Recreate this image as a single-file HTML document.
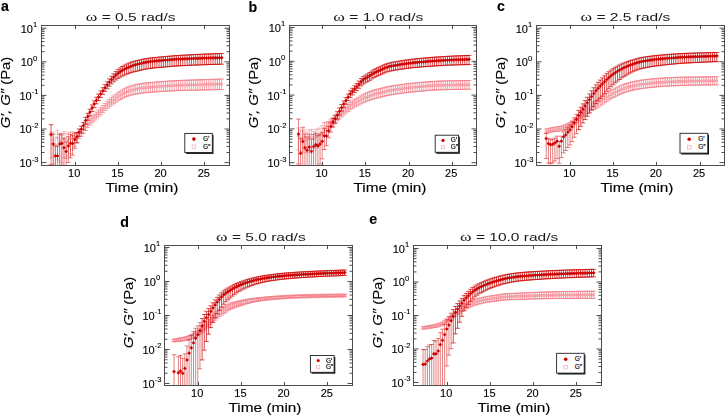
<!DOCTYPE html>
<html><head><meta charset="utf-8"><style>
html,body{margin:0;padding:0;background:#fff;width:726px;height:416px;overflow:hidden}
svg{display:block;filter:blur(0.25px)}
text{font-family:"Liberation Sans",sans-serif;fill:#000;stroke:#000;stroke-width:0.12px}
.tl{font-size:11px}
.sup{font-size:7.6px}
.at{font-size:12px}
.ti{font-size:11.5px;stroke:none;fill:#1a1a1a}
.om{font-family:"Liberation Serif",serif;font-size:13px}
.pl{font-size:15px;font-weight:bold;fill:#000}
.lg{font-size:6.5px;fill:#000;stroke:#000;stroke-width:0.15px}
</style></head><body>
<svg width="726" height="416" viewBox="0 0 726 416">
<defs><clipPath id="cla"><rect x="41.5" y="25.5" width="188.0" height="140.0"/></clipPath><clipPath id="clb"><rect x="289.5" y="25.5" width="187.0" height="140.0"/></clipPath><clipPath id="clc"><rect x="536.5" y="25.5" width="188.0" height="140.0"/></clipPath><clipPath id="cld"><rect x="164.5" y="245.5" width="188.0" height="140.0"/></clipPath><clipPath id="cle"><rect x="413.5" y="245.5" width="188.0" height="140.0"/></clipPath></defs>
<g clip-path="url(#cla)">
<path d="M76.96 132.71V142.57M74.66 132.71h4.60M74.66 142.57h4.60M79.12 131.49V138.80M76.82 131.49h4.60M76.82 138.80h4.60M81.28 129.30V136.24M78.98 129.30h4.60M78.98 136.24h4.60M83.44 126.70V133.56M81.14 126.70h4.60M81.14 133.56h4.60M85.60 123.68V130.49M83.30 123.68h4.60M83.30 130.49h4.60M87.76 120.74V127.54M85.46 120.74h4.60M85.46 127.54h4.60M89.92 118.33V125.13M87.62 118.33h4.60M87.62 125.13h4.60M92.08 116.21V123.04M89.78 116.21h4.60M89.78 123.04h4.60M94.24 114.16V121.02M91.94 114.16h4.60M91.94 121.02h4.60M96.40 112.02V118.93M94.10 112.02h4.60M94.10 118.93h4.60M98.56 109.88V116.84M96.26 109.88h4.60M96.26 116.84h4.60M100.72 107.75V114.77M98.42 107.75h4.60M98.42 114.77h4.60M102.88 105.59V112.68M100.58 105.59h4.60M100.58 112.68h4.60M105.04 103.41V110.60M102.74 103.41h4.60M102.74 110.60h4.60M107.20 101.35V108.66M104.90 101.35h4.60M104.90 108.66h4.60M109.36 99.46V106.91M107.06 99.46h4.60M107.06 106.91h4.60M111.52 97.68V105.27M109.22 97.68h4.60M109.22 105.27h4.60M113.68 95.98V103.74M111.38 95.98h4.60M111.38 103.74h4.60M115.84 94.34V102.26M113.54 94.34h4.60M113.54 102.26h4.60M118.00 92.77V100.87M115.70 92.77h4.60M115.70 100.87h4.60M120.16 91.33V99.60M117.86 91.33h4.60M117.86 99.60h4.60M122.32 89.96V98.42M120.02 89.96h4.60M120.02 98.42h4.60M124.48 88.72V97.34M122.18 88.72h4.60M122.18 97.34h4.60M126.64 87.68V96.47M124.34 87.68h4.60M124.34 96.47h4.60M128.80 86.79V95.74M126.50 86.79h4.60M126.50 95.74h4.60M130.96 86.02V95.12M128.66 86.02h4.60M128.66 95.12h4.60M133.12 85.37V94.60M130.82 85.37h4.60M130.82 94.60h4.60M135.28 84.82V94.15M132.98 84.82h4.60M132.98 94.15h4.60M137.44 84.33V93.76M135.14 84.33h4.60M135.14 93.76h4.60M139.60 83.92V93.41M137.30 83.92h4.60M137.30 93.41h4.60M141.76 83.58V93.12M139.46 83.58h4.60M139.46 93.12h4.60M143.92 83.28V92.87M141.62 83.28h4.60M141.62 92.87h4.60M146.08 83.02V92.65M143.78 83.02h4.60M143.78 92.65h4.60M148.24 82.79V92.45M145.94 82.79h4.60M145.94 92.45h4.60M150.40 82.57V92.27M148.10 82.57h4.60M148.10 92.27h4.60M152.56 82.36V92.10M150.26 82.36h4.60M150.26 92.10h4.60M154.72 82.16V91.94M152.42 82.16h4.60M152.42 91.94h4.60M156.88 81.98V91.79M154.58 81.98h4.60M154.58 91.79h4.60M159.04 81.80V91.65M156.74 81.80h4.60M156.74 91.65h4.60M161.20 81.64V91.51M158.90 81.64h4.60M158.90 91.51h4.60M163.36 81.48V91.38M161.06 81.48h4.60M161.06 91.38h4.60M165.52 81.32V91.25M163.22 81.32h4.60M163.22 91.25h4.60M167.68 81.17V91.12M165.38 81.17h4.60M165.38 91.12h4.60M169.84 81.01V90.99M167.54 81.01h4.60M167.54 90.99h4.60M172.00 80.86V90.87M169.70 80.86h4.60M169.70 90.87h4.60M174.16 80.73V90.76M171.86 80.73h4.60M171.86 90.76h4.60M176.32 80.62V90.67M174.02 80.62h4.60M174.02 90.67h4.60M178.48 80.52V90.59M176.18 80.52h4.60M176.18 90.59h4.60M180.64 80.43V90.52M178.34 80.43h4.60M178.34 90.52h4.60M182.80 80.34V90.46M180.50 80.34h4.60M180.50 90.46h4.60M184.96 80.26V90.40M182.66 80.26h4.60M182.66 90.40h4.60M187.12 80.19V90.35M184.82 80.19h4.60M184.82 90.35h4.60M189.28 80.12V90.30M186.98 80.12h4.60M186.98 90.30h4.60M191.44 80.05V90.25M189.14 80.05h4.60M189.14 90.25h4.60M193.60 79.98V90.20M191.30 79.98h4.60M191.30 90.20h4.60M195.76 79.92V90.15M193.46 79.92h4.60M193.46 90.15h4.60M197.92 79.85V90.11M195.62 79.85h4.60M195.62 90.11h4.60M200.08 79.78V90.06M197.78 79.78h4.60M197.78 90.06h4.60M202.24 79.71V90.01M199.94 79.71h4.60M199.94 90.01h4.60M204.40 79.64V89.96M202.10 79.64h4.60M202.10 89.96h4.60M206.56 79.57V89.90M204.26 79.57h4.60M204.26 89.90h4.60M208.72 79.49V89.84M206.42 79.49h4.60M206.42 89.84h4.60M210.88 79.41V89.79M208.58 79.41h4.60M208.58 89.79h4.60M213.04 79.33V89.73M210.74 79.33h4.60M210.74 89.73h4.60M215.20 79.25V89.67M212.90 79.25h4.60M212.90 89.67h4.60M217.36 79.17V89.62M215.06 79.17h4.60M215.06 89.62h4.60M219.52 79.09V89.56M217.22 79.09h4.60M217.22 89.56h4.60M221.68 79.01V89.51M219.38 79.01h4.60M219.38 89.51h4.60" stroke="#f37c87" stroke-width="0.75" fill="none"/>
<path d="M51.04 125.00V157.98M48.74 125.00h4.60M48.74 157.98h4.60M53.20 132.10V163.89M50.90 132.10h4.60M50.90 163.89h4.60M55.36 137.19V165.50M53.06 137.19h4.60M57.52 130.27V159.88M55.22 130.27h4.60M55.22 159.88h4.60M59.68 133.35V161.89M57.38 133.35h4.60M57.38 161.89h4.60M61.84 135.44V162.86M59.54 135.44h4.60M59.54 162.86h4.60M64.00 131.55V157.76M61.70 131.55h4.60M61.70 157.76h4.60M66.16 133.68V158.54M63.86 133.68h4.60M63.86 158.54h4.60M68.32 132.84V156.18M66.02 132.84h4.60M66.02 156.18h4.60M70.48 132.07V153.61M68.18 132.07h4.60M68.18 153.61h4.60M72.64 131.83V150.08M70.34 131.83h4.60M70.34 150.08h4.60M74.80 132.51V146.44M72.50 132.51h4.60M72.50 146.44h4.60" stroke="#f37c87" stroke-width="0.5" fill="none"/>
<path d="M50.14 132.10h1.80v1.80h-1.80zM52.30 139.10h1.80v1.80h-1.80zM54.46 144.10h1.80v1.80h-1.80zM56.62 137.10h1.80v1.80h-1.80zM58.78 140.10h1.80v1.80h-1.80zM60.94 142.10h1.80v1.80h-1.80zM63.10 138.10h1.80v1.80h-1.80zM65.26 140.10h1.80v1.80h-1.80zM67.42 139.10h1.80v1.80h-1.80zM69.58 138.10h1.80v1.80h-1.80zM71.74 137.10h1.80v1.80h-1.80zM73.90 136.60h1.80v1.80h-1.80zM76.06 135.63h1.80v1.80h-1.80zM78.22 133.67h1.80v1.80h-1.80zM80.38 131.40h1.80v1.80h-1.80zM82.54 128.82h1.80v1.80h-1.80zM84.70 125.84h1.80v1.80h-1.80zM86.86 122.96h1.80v1.80h-1.80zM89.02 120.61h1.80v1.80h-1.80zM91.18 118.57h1.80v1.80h-1.80zM93.34 116.58h1.80v1.80h-1.80zM95.50 114.52h1.80v1.80h-1.80zM97.66 112.44h1.80v1.80h-1.80zM99.82 110.37h1.80v1.80h-1.80zM101.98 108.26h1.80v1.80h-1.80zM104.14 106.14h1.80v1.80h-1.80zM106.30 104.14h1.80v1.80h-1.80zM108.46 102.32h1.80v1.80h-1.80zM110.62 100.60h1.80v1.80h-1.80zM112.78 98.97h1.80v1.80h-1.80zM114.94 97.39h1.80v1.80h-1.80zM117.10 95.89h1.80v1.80h-1.80zM119.26 94.50h1.80v1.80h-1.80zM121.42 93.20h1.80v1.80h-1.80zM123.58 92.01h1.80v1.80h-1.80zM125.74 91.03h1.80v1.80h-1.80zM127.90 90.20h1.80v1.80h-1.80zM130.06 89.47h1.80v1.80h-1.80zM132.22 88.87h1.80v1.80h-1.80zM134.38 88.35h1.80v1.80h-1.80zM136.54 87.90h1.80v1.80h-1.80zM138.70 87.51h1.80v1.80h-1.80zM140.86 87.20h1.80v1.80h-1.80zM143.02 86.92h1.80v1.80h-1.80zM145.18 86.68h1.80v1.80h-1.80zM147.34 86.47h1.80v1.80h-1.80zM149.50 86.27h1.80v1.80h-1.80zM151.66 86.08h1.80v1.80h-1.80zM153.82 85.90h1.80v1.80h-1.80zM155.98 85.73h1.80v1.80h-1.80zM158.14 85.57h1.80v1.80h-1.80zM160.30 85.42h1.80v1.80h-1.80zM162.46 85.27h1.80v1.80h-1.80zM164.62 85.13h1.80v1.80h-1.80zM166.78 84.99h1.80v1.80h-1.80zM168.94 84.85h1.80v1.80h-1.80zM171.10 84.71h1.80v1.80h-1.80zM173.26 84.59h1.80v1.80h-1.80zM175.42 84.49h1.80v1.80h-1.80zM177.58 84.40h1.80v1.80h-1.80zM179.74 84.32h1.80v1.80h-1.80zM181.90 84.25h1.80v1.80h-1.80zM184.06 84.18h1.80v1.80h-1.80zM186.22 84.11h1.80v1.80h-1.80zM188.38 84.05h1.80v1.80h-1.80zM190.54 83.99h1.80v1.80h-1.80zM192.70 83.94h1.80v1.80h-1.80zM194.86 83.88h1.80v1.80h-1.80zM197.02 83.83h1.80v1.80h-1.80zM199.18 83.77h1.80v1.80h-1.80zM201.34 83.71h1.80v1.80h-1.80zM203.50 83.65h1.80v1.80h-1.80zM205.66 83.58h1.80v1.80h-1.80zM207.82 83.52h1.80v1.80h-1.80zM209.98 83.45h1.80v1.80h-1.80zM212.14 83.38h1.80v1.80h-1.80zM214.30 83.31h1.80v1.80h-1.80zM216.46 83.25h1.80v1.80h-1.80zM218.62 83.18h1.80v1.80h-1.80zM220.78 83.11h1.80v1.80h-1.80z" fill="none" stroke="#f37c87" stroke-width="0.5"/>
</g>
<g clip-path="url(#cla)">
<path d="M76.96 132.69V142.86M74.66 132.69h4.60M74.66 142.86h4.60M79.12 129.01V136.35M76.82 129.01h4.60M76.82 136.35h4.60M81.28 126.17V133.11M78.98 126.17h4.60M78.98 133.11h4.60M83.44 122.51V129.34M81.14 122.51h4.60M81.14 129.34h4.60M85.60 117.46V124.21M83.30 117.46h4.60M83.30 124.21h4.60M87.76 113.39V120.06M85.46 113.39h4.60M85.46 120.06h4.60M89.92 109.22V115.84M87.62 109.22h4.60M87.62 115.84h4.60M92.08 104.93V111.50M89.78 104.93h4.60M89.78 111.50h4.60M94.24 100.88V107.42M91.94 100.88h4.60M91.94 107.42h4.60M96.40 97.32V103.83M94.10 97.32h4.60M94.10 103.83h4.60M98.56 94.06V100.56M96.26 94.06h4.60M96.26 100.56h4.60M100.72 90.91V97.41M98.42 90.91h4.60M98.42 97.41h4.60M102.88 87.74V94.33M100.58 87.74h4.60M100.58 94.33h4.60M105.04 84.67V91.44M102.74 84.67h4.60M102.74 91.44h4.60M107.20 81.74V88.75M104.90 81.74h4.60M104.90 88.75h4.60M109.36 78.92V86.24M107.06 78.92h4.60M107.06 86.24h4.60M111.52 76.22V83.88M109.22 76.22h4.60M109.22 83.88h4.60M113.68 73.78V81.82M111.38 73.78h4.60M111.38 81.82h4.60M115.84 71.57V80.00M113.54 71.57h4.60M113.54 80.00h4.60M118.00 69.65V78.45M115.70 69.65h4.60M115.70 78.45h4.60M120.16 67.98V77.15M117.86 67.98h4.60M117.86 77.15h4.60M122.32 66.53V76.02M120.02 66.53h4.60M120.02 76.02h4.60M124.48 65.26V75.03M122.18 65.26h4.60M122.18 75.03h4.60M126.64 64.16V74.14M124.34 64.16h4.60M124.34 74.14h4.60M128.80 63.19V73.32M126.50 63.19h4.60M126.50 73.32h4.60M130.96 62.33V72.60M128.66 62.33h4.60M128.66 72.60h4.60M133.12 61.62V72.00M130.82 61.62h4.60M130.82 72.00h4.60M135.28 61.01V71.47M132.98 61.01h4.60M132.98 71.47h4.60M137.44 60.48V70.98M135.14 60.48h4.60M135.14 70.98h4.60M139.60 60.01V70.48M137.30 60.01h4.60M137.30 70.48h4.60M141.76 59.58V69.99M139.46 59.58h4.60M139.46 69.99h4.60M143.92 59.15V69.50M141.62 59.15h4.60M141.62 69.50h4.60M146.08 58.73V69.04M143.78 58.73h4.60M143.78 69.04h4.60M148.24 58.36V68.66M145.94 58.36h4.60M145.94 68.66h4.60M150.40 58.06V68.35M148.10 58.06h4.60M148.10 68.35h4.60M152.56 57.80V68.09M150.26 57.80h4.60M150.26 68.09h4.60M154.72 57.56V67.86M152.42 57.56h4.60M152.42 67.86h4.60M156.88 57.35V67.64M154.58 57.35h4.60M154.58 67.64h4.60M159.04 57.15V67.45M156.74 57.15h4.60M156.74 67.45h4.60M161.20 56.95V67.26M158.90 56.95h4.60M158.90 67.26h4.60M163.36 56.76V67.08M161.06 56.76h4.60M161.06 67.08h4.60M165.52 56.57V66.89M163.22 56.57h4.60M163.22 66.89h4.60M167.68 56.37V66.70M165.38 56.37h4.60M165.38 66.70h4.60M169.84 56.16V66.50M167.54 56.16h4.60M167.54 66.50h4.60M172.00 55.96V66.31M169.70 55.96h4.60M169.70 66.31h4.60M174.16 55.77V66.13M171.86 55.77h4.60M171.86 66.13h4.60M176.32 55.62V65.99M174.02 55.62h4.60M174.02 65.99h4.60M178.48 55.48V65.86M176.18 55.48h4.60M176.18 65.86h4.60M180.64 55.34V65.74M178.34 55.34h4.60M178.34 65.74h4.60M182.80 55.21V65.63M180.50 55.21h4.60M180.50 65.63h4.60M184.96 55.09V65.52M182.66 55.09h4.60M182.66 65.52h4.60M187.12 54.97V65.42M184.82 54.97h4.60M184.82 65.42h4.60M189.28 54.85V65.32M186.98 54.85h4.60M186.98 65.32h4.60M191.44 54.74V65.22M189.14 54.74h4.60M189.14 65.22h4.60M193.60 54.64V65.13M191.30 54.64h4.60M191.30 65.13h4.60M195.76 54.53V65.04M193.46 54.53h4.60M193.46 65.04h4.60M197.92 54.43V64.96M195.62 54.43h4.60M195.62 64.96h4.60M200.08 54.33V64.88M197.78 54.33h4.60M197.78 64.88h4.60M202.24 54.24V64.80M199.94 54.24h4.60M199.94 64.80h4.60M204.40 54.15V64.72M202.10 54.15h4.60M202.10 64.72h4.60M206.56 54.05V64.65M204.26 54.05h4.60M204.26 64.65h4.60M208.72 53.97V64.58M206.42 53.97h4.60M206.42 64.58h4.60M210.88 53.88V64.51M208.58 53.88h4.60M208.58 64.51h4.60M213.04 53.81V64.45M210.74 53.81h4.60M210.74 64.45h4.60M215.20 53.73V64.39M212.90 53.73h4.60M212.90 64.39h4.60M217.36 53.66V64.33M215.06 53.66h4.60M215.06 64.33h4.60M219.52 53.58V64.27M217.22 53.58h4.60M217.22 64.27h4.60M221.68 53.51V64.21M219.38 53.51h4.60M219.38 64.21h4.60" stroke="#cc0000" stroke-width="0.7" fill="none"/>
<path d="M51.04 124.60V164.57M48.74 124.60h4.60M48.74 164.57h4.60M53.20 134.10V165.50M50.90 134.10h4.60M55.36 146.09V165.50M53.06 146.09h4.60M57.52 146.16V165.50M55.22 146.16h4.60M59.68 134.34V165.50M57.38 134.34h4.60M61.84 133.83V165.23M59.54 133.83h4.60M59.54 165.23h4.60M64.00 138.28V165.50M61.70 138.28h4.60M66.16 142.17V165.50M63.86 142.17h4.60M68.32 136.74V162.43M66.02 136.74h4.60M66.02 162.43h4.60M70.48 134.49V157.92M68.18 134.49h4.60M68.18 157.92h4.60M72.64 135.59V155.20M70.34 135.59h4.60M70.34 155.20h4.60M74.80 133.56V148.28M72.50 133.56h4.60M72.50 148.28h4.60" stroke="#cc0000" stroke-width="0.5" fill="none"/>
<path d="M51.04 133.00l1.60 1.60l-1.60 1.60l-1.60 -1.60zM53.20 142.40l1.60 1.60l-1.60 1.60l-1.60 -1.60zM55.36 154.30l1.60 1.60l-1.60 1.60l-1.60 -1.60zM57.52 154.30l1.60 1.60l-1.60 1.60l-1.60 -1.60zM59.68 142.40l1.60 1.60l-1.60 1.60l-1.60 -1.60zM61.84 141.80l1.60 1.60l-1.60 1.60l-1.60 -1.60zM64.00 146.15l1.60 1.60l-1.60 1.60l-1.60 -1.60zM66.16 149.90l1.60 1.60l-1.60 1.60l-1.60 -1.60zM68.32 144.30l1.60 1.60l-1.60 1.60l-1.60 -1.60zM70.48 141.80l1.60 1.60l-1.60 1.60l-1.60 -1.60zM72.64 141.80l1.60 1.60l-1.60 1.60l-1.60 -1.60zM74.80 138.00l1.60 1.60l-1.60 1.60l-1.60 -1.60zM76.96 135.35l1.60 1.60l-1.60 1.60l-1.60 -1.60zM79.12 130.53l1.60 1.60l-1.60 1.60l-1.60 -1.60zM81.28 127.57l1.60 1.60l-1.60 1.60l-1.60 -1.60zM83.44 123.91l1.60 1.60l-1.60 1.60l-1.60 -1.60zM85.60 118.86l1.60 1.60l-1.60 1.60l-1.60 -1.60zM87.76 114.79l1.60 1.60l-1.60 1.60l-1.60 -1.60zM89.92 110.62l1.60 1.60l-1.60 1.60l-1.60 -1.60zM92.08 106.33l1.60 1.60l-1.60 1.60l-1.60 -1.60zM94.24 102.28l1.60 1.60l-1.60 1.60l-1.60 -1.60zM96.40 98.72l1.60 1.60l-1.60 1.60l-1.60 -1.60zM98.56 95.46l1.60 1.60l-1.60 1.60l-1.60 -1.60zM100.72 92.31l1.60 1.60l-1.60 1.60l-1.60 -1.60zM102.88 89.17l1.60 1.60l-1.60 1.60l-1.60 -1.60zM105.04 86.16l1.60 1.60l-1.60 1.60l-1.60 -1.60zM107.20 83.31l1.60 1.60l-1.60 1.60l-1.60 -1.60zM109.36 80.60l1.60 1.60l-1.60 1.60l-1.60 -1.60zM111.52 78.01l1.60 1.60l-1.60 1.60l-1.60 -1.60zM113.68 75.69l1.60 1.60l-1.60 1.60l-1.60 -1.60zM115.84 73.60l1.60 1.60l-1.60 1.60l-1.60 -1.60zM118.00 71.79l1.60 1.60l-1.60 1.60l-1.60 -1.60zM120.16 70.22l1.60 1.60l-1.60 1.60l-1.60 -1.60zM122.32 68.85l1.60 1.60l-1.60 1.60l-1.60 -1.60zM124.48 67.64l1.60 1.60l-1.60 1.60l-1.60 -1.60zM126.64 66.56l1.60 1.60l-1.60 1.60l-1.60 -1.60zM128.80 65.58l1.60 1.60l-1.60 1.60l-1.60 -1.60zM130.96 64.69l1.60 1.60l-1.60 1.60l-1.60 -1.60zM133.12 63.91l1.60 1.60l-1.60 1.60l-1.60 -1.60zM135.28 63.23l1.60 1.60l-1.60 1.60l-1.60 -1.60zM137.44 62.63l1.60 1.60l-1.60 1.60l-1.60 -1.60zM139.60 62.09l1.60 1.60l-1.60 1.60l-1.60 -1.60zM141.76 61.59l1.60 1.60l-1.60 1.60l-1.60 -1.60zM143.92 61.10l1.60 1.60l-1.60 1.60l-1.60 -1.60zM146.08 60.64l1.60 1.60l-1.60 1.60l-1.60 -1.60zM148.24 60.26l1.60 1.60l-1.60 1.60l-1.60 -1.60zM150.40 59.96l1.60 1.60l-1.60 1.60l-1.60 -1.60zM152.56 59.70l1.60 1.60l-1.60 1.60l-1.60 -1.60zM154.72 59.47l1.60 1.60l-1.60 1.60l-1.60 -1.60zM156.88 59.27l1.60 1.60l-1.60 1.60l-1.60 -1.60zM159.04 59.07l1.60 1.60l-1.60 1.60l-1.60 -1.60zM161.20 58.89l1.60 1.60l-1.60 1.60l-1.60 -1.60zM163.36 58.72l1.60 1.60l-1.60 1.60l-1.60 -1.60zM165.52 58.54l1.60 1.60l-1.60 1.60l-1.60 -1.60zM167.68 58.36l1.60 1.60l-1.60 1.60l-1.60 -1.60zM169.84 58.17l1.60 1.60l-1.60 1.60l-1.60 -1.60zM172.00 57.98l1.60 1.60l-1.60 1.60l-1.60 -1.60zM174.16 57.82l1.60 1.60l-1.60 1.60l-1.60 -1.60zM176.32 57.68l1.60 1.60l-1.60 1.60l-1.60 -1.60zM178.48 57.56l1.60 1.60l-1.60 1.60l-1.60 -1.60zM180.64 57.45l1.60 1.60l-1.60 1.60l-1.60 -1.60zM182.80 57.35l1.60 1.60l-1.60 1.60l-1.60 -1.60zM184.96 57.25l1.60 1.60l-1.60 1.60l-1.60 -1.60zM187.12 57.16l1.60 1.60l-1.60 1.60l-1.60 -1.60zM189.28 57.07l1.60 1.60l-1.60 1.60l-1.60 -1.60zM191.44 56.98l1.60 1.60l-1.60 1.60l-1.60 -1.60zM193.60 56.90l1.60 1.60l-1.60 1.60l-1.60 -1.60zM195.76 56.83l1.60 1.60l-1.60 1.60l-1.60 -1.60zM197.92 56.75l1.60 1.60l-1.60 1.60l-1.60 -1.60zM200.08 56.68l1.60 1.60l-1.60 1.60l-1.60 -1.60zM202.24 56.62l1.60 1.60l-1.60 1.60l-1.60 -1.60zM204.40 56.55l1.60 1.60l-1.60 1.60l-1.60 -1.60zM206.56 56.48l1.60 1.60l-1.60 1.60l-1.60 -1.60zM208.72 56.42l1.60 1.60l-1.60 1.60l-1.60 -1.60zM210.88 56.37l1.60 1.60l-1.60 1.60l-1.60 -1.60zM213.04 56.31l1.60 1.60l-1.60 1.60l-1.60 -1.60zM215.20 56.26l1.60 1.60l-1.60 1.60l-1.60 -1.60zM217.36 56.21l1.60 1.60l-1.60 1.60l-1.60 -1.60zM219.52 56.16l1.60 1.60l-1.60 1.60l-1.60 -1.60zM221.68 56.11l1.60 1.60l-1.60 1.60l-1.60 -1.60z" fill="#cc0000" stroke="#cc0000" stroke-width="0.5"/>
</g>
<rect x="41.5" y="25.5" width="188.0" height="140.0" fill="none" stroke="#4d4d4d" stroke-width="1"/>
<path d="M75.5 165.5v-3.5M75.5 25.5v3.5M118.5 165.5v-3.5M118.5 25.5v3.5M161.5 165.5v-3.5M161.5 25.5v3.5M204.5 165.5v-3.5M204.5 25.5v3.5M41.5 162.60h5M229.5 162.60h-5M41.5 152.49h3M229.5 152.49h-3M41.5 146.57h3M229.5 146.57h-3M41.5 142.37h3M229.5 142.37h-3M41.5 139.11h3M229.5 139.11h-3M41.5 136.45h3M229.5 136.45h-3M41.5 134.20h3M229.5 134.20h-3M41.5 132.26h3M229.5 132.26h-3M41.5 130.54h3M229.5 130.54h-3M41.5 129.00h5M229.5 129.00h-5M41.5 118.89h3M229.5 118.89h-3M41.5 112.97h3M229.5 112.97h-3M41.5 108.77h3M229.5 108.77h-3M41.5 105.51h3M229.5 105.51h-3M41.5 102.85h3M229.5 102.85h-3M41.5 100.60h3M229.5 100.60h-3M41.5 98.66h3M229.5 98.66h-3M41.5 96.94h3M229.5 96.94h-3M41.5 95.40h5M229.5 95.40h-5M41.5 85.29h3M229.5 85.29h-3M41.5 79.37h3M229.5 79.37h-3M41.5 75.17h3M229.5 75.17h-3M41.5 71.91h3M229.5 71.91h-3M41.5 69.25h3M229.5 69.25h-3M41.5 67.00h3M229.5 67.00h-3M41.5 65.06h3M229.5 65.06h-3M41.5 63.34h3M229.5 63.34h-3M41.5 61.80h5M229.5 61.80h-5M41.5 51.69h3M229.5 51.69h-3M41.5 45.77h3M229.5 45.77h-3M41.5 41.57h3M229.5 41.57h-3M41.5 38.31h3M229.5 38.31h-3M41.5 35.65h3M229.5 35.65h-3M41.5 33.40h3M229.5 33.40h-3M41.5 31.46h3M229.5 31.46h-3M41.5 29.74h3M229.5 29.74h-3M41.5 28.20h5M229.5 28.20h-5" stroke="#4d4d4d" stroke-width="1" fill="none"/>
<text x="74.2" y="177.4" class="tl" text-anchor="middle">10</text>
<text x="117.4" y="177.4" class="tl" text-anchor="middle">15</text>
<text x="160.6" y="177.4" class="tl" text-anchor="middle">20</text>
<text x="203.8" y="177.4" class="tl" text-anchor="middle">25</text>
<text x="28.9" y="167.0" class="tl" text-anchor="middle">10<tspan class="sup" dy="-5.5">-3</tspan></text>
<text x="28.9" y="133.4" class="tl" text-anchor="middle">10<tspan class="sup" dy="-5.5">-2</tspan></text>
<text x="28.9" y="99.8" class="tl" text-anchor="middle">10<tspan class="sup" dy="-5.5">-1</tspan></text>
<text x="28.9" y="66.2" class="tl" text-anchor="middle">10<tspan class="sup" dy="-5.5">0</tspan></text>
<text x="28.9" y="32.6" class="tl" text-anchor="middle">10<tspan class="sup" dy="-5.5">1</tspan></text>
<text x="105.5" y="192.1" class="at" textLength="73" lengthAdjust="spacingAndGlyphs">Time (min)</text>
<text transform="translate(10.3,92.5) rotate(-90)" class="at" text-anchor="middle" textLength="71.5" lengthAdjust="spacingAndGlyphs"><tspan font-style="italic">G&#8242;, G&#8243;</tspan> (Pa)</text>
<text x="85.8" y="20.7" class="ti" textLength="89.7" lengthAdjust="spacingAndGlyphs"><tspan class="om">&#969;</tspan> = 0.5 rad/s</text>
<text transform="translate(1.0,11.0) scale(0.95,1)" class="pl">a</text>
<rect x="186.0" y="134.8" width="27.5" height="19.1" fill="#111"/>
<rect x="184.8" y="133.4" width="27.5" height="19.1" fill="#fff" stroke="#222" stroke-width="0.9"/>
<circle cx="193.9" cy="139.1" r="1.8" fill="#cc0000"/>
<rect x="192.1" y="145.0" width="3.6" height="3.6" fill="none" stroke="#f59aa2" stroke-width="0.6"/>
<text x="203.0" y="141.1" class="lg">G&#8242;</text>
<text x="203.0" y="148.8" class="lg">G&#8243;</text>
<g clip-path="url(#clb)">
<path d="M324.36 122.76V135.23M322.06 122.76h4.60M322.06 135.23h4.60M326.52 122.29V131.86M324.22 122.29h4.60M324.22 131.86h4.60M328.68 121.41V128.89M326.38 121.41h4.60M326.38 128.89h4.60M330.84 119.80V126.75M328.54 119.80h4.60M328.54 126.75h4.60M333.00 117.93V124.78M330.70 117.93h4.60M330.70 124.78h4.60M335.16 115.99V122.81M332.86 115.99h4.60M332.86 122.81h4.60M337.32 114.03V120.85M335.02 114.03h4.60M335.02 120.85h4.60M339.48 112.03V118.89M337.18 112.03h4.60M337.18 118.89h4.60M341.64 110.02V116.92M339.34 110.02h4.60M339.34 116.92h4.60M343.80 108.05V115.02M341.50 108.05h4.60M341.50 115.02h4.60M345.96 106.18V113.21M343.66 106.18h4.60M343.66 113.21h4.60M348.12 104.38V111.48M345.82 104.38h4.60M345.82 111.48h4.60M350.28 102.64V109.85M347.98 102.64h4.60M347.98 109.85h4.60M352.44 100.95V108.27M350.14 100.95h4.60M350.14 108.27h4.60M354.60 99.51V106.96M352.30 99.51h4.60M352.30 106.96h4.60M356.76 98.33V105.91M354.46 98.33h4.60M354.46 105.91h4.60M358.92 97.18V104.90M356.62 97.18h4.60M356.62 104.90h4.60M361.08 95.88V103.74M358.78 95.88h4.60M358.78 103.74h4.60M363.24 94.69V102.70M360.94 94.69h4.60M360.94 102.70h4.60M365.40 93.59V101.74M363.10 93.59h4.60M363.10 101.74h4.60M367.56 92.58V100.86M365.26 92.58h4.60M365.26 100.86h4.60M369.72 91.67V100.07M367.42 91.67h4.60M367.42 100.07h4.60M371.88 90.90V99.40M369.58 90.90h4.60M369.58 99.40h4.60M374.04 90.22V98.81M371.74 90.22h4.60M371.74 98.81h4.60M376.20 89.61V98.27M373.90 89.61h4.60M373.90 98.27h4.60M378.36 89.04V97.73M376.06 89.04h4.60M376.06 97.73h4.60M380.52 88.47V97.17M378.22 88.47h4.60M378.22 97.17h4.60M382.68 87.92V96.62M380.38 87.92h4.60M380.38 96.62h4.60M384.84 87.39V96.09M382.54 87.39h4.60M382.54 96.09h4.60M387.00 86.89V95.59M384.70 86.89h4.60M384.70 95.59h4.60M389.16 86.45V95.15M386.86 86.45h4.60M386.86 95.15h4.60M391.32 86.07V94.77M389.02 86.07h4.60M389.02 94.77h4.60M393.48 85.71V94.41M391.18 85.71h4.60M391.18 94.41h4.60M395.64 85.37V94.07M393.34 85.37h4.60M393.34 94.07h4.60M397.80 85.05V93.75M395.50 85.05h4.60M395.50 93.75h4.60M399.96 84.75V93.45M397.66 84.75h4.60M397.66 93.45h4.60M402.12 84.45V93.15M399.82 84.45h4.60M399.82 93.15h4.60M404.28 84.18V92.88M401.98 84.18h4.60M401.98 92.88h4.60M406.44 83.92V92.62M404.14 83.92h4.60M404.14 92.62h4.60M408.60 83.67V92.37M406.30 83.67h4.60M406.30 92.37h4.60M410.76 83.43V92.13M408.46 83.43h4.60M408.46 92.13h4.60M412.92 83.21V91.91M410.62 83.21h4.60M410.62 91.91h4.60M415.08 82.99V91.69M412.78 82.99h4.60M412.78 91.69h4.60M417.24 82.78V91.48M414.94 82.78h4.60M414.94 91.48h4.60M419.40 82.58V91.28M417.10 82.58h4.60M417.10 91.28h4.60M421.56 82.37V91.07M419.26 82.37h4.60M419.26 91.07h4.60M423.72 82.17V90.87M421.42 82.17h4.60M421.42 90.87h4.60M425.88 81.99V90.69M423.58 81.99h4.60M423.58 90.69h4.60M428.04 81.81V90.51M425.74 81.81h4.60M425.74 90.51h4.60M430.20 81.64V90.34M427.90 81.64h4.60M427.90 90.34h4.60M432.36 81.49V90.19M430.06 81.49h4.60M430.06 90.19h4.60M434.52 81.35V90.05M432.22 81.35h4.60M432.22 90.05h4.60M436.68 81.24V89.94M434.38 81.24h4.60M434.38 89.94h4.60M438.84 81.14V89.84M436.54 81.14h4.60M436.54 89.84h4.60M441.00 81.07V89.77M438.70 81.07h4.60M438.70 89.77h4.60M443.16 81.01V89.71M440.86 81.01h4.60M440.86 89.71h4.60M445.32 80.95V89.65M443.02 80.95h4.60M443.02 89.65h4.60M447.48 80.90V89.60M445.18 80.90h4.60M445.18 89.60h4.60M449.64 80.85V89.55M447.34 80.85h4.60M447.34 89.55h4.60M451.80 80.81V89.51M449.50 80.81h4.60M449.50 89.51h4.60M453.96 80.77V89.47M451.66 80.77h4.60M451.66 89.47h4.60M456.12 80.74V89.44M453.82 80.74h4.60M453.82 89.44h4.60M458.28 80.70V89.40M455.98 80.70h4.60M455.98 89.40h4.60M460.44 80.67V89.37M458.14 80.67h4.60M458.14 89.37h4.60M462.60 80.63V89.33M460.30 80.63h4.60M460.30 89.33h4.60M464.76 80.60V89.30M462.46 80.60h4.60M462.46 89.30h4.60M466.92 80.56V89.26M464.62 80.56h4.60M464.62 89.26h4.60M469.08 80.52V89.22M466.78 80.52h4.60M466.78 89.22h4.60" stroke="#f37c87" stroke-width="0.75" fill="none"/>
<path d="M298.44 128.00V150.00M296.14 128.00h4.60M296.14 150.00h4.60M300.60 130.07V151.71M298.30 130.07h4.60M298.30 151.71h4.60M302.76 131.15V152.35M300.46 131.15h4.60M300.46 152.35h4.60M304.92 129.23V150.01M302.62 129.23h4.60M302.62 150.01h4.60M307.08 132.30V152.69M304.78 132.30h4.60M304.78 152.69h4.60M309.24 130.37V150.35M306.94 130.37h4.60M306.94 150.35h4.60M311.40 129.45V148.99M309.10 129.45h4.60M309.10 148.99h4.60M313.56 131.55V150.59M311.26 131.55h4.60M311.26 150.59h4.60M315.72 129.67V148.13M313.42 129.67h4.60M313.42 148.13h4.60M317.88 128.82V146.61M315.58 128.82h4.60M315.58 146.61h4.60M320.04 128.00V144.99M317.74 128.00h4.60M317.74 144.99h4.60M322.20 125.62V140.87M319.90 125.62h4.60M319.90 140.87h4.60" stroke="#f37c87" stroke-width="0.5" fill="none"/>
<path d="M297.54 135.10h1.80v1.80h-1.80zM299.70 137.10h1.80v1.80h-1.80zM301.86 138.10h1.80v1.80h-1.80zM304.02 136.10h1.80v1.80h-1.80zM306.18 139.10h1.80v1.80h-1.80zM308.34 137.10h1.80v1.80h-1.80zM310.50 136.10h1.80v1.80h-1.80zM312.66 138.10h1.80v1.80h-1.80zM314.82 136.10h1.80v1.80h-1.80zM316.98 135.10h1.80v1.80h-1.80zM319.14 134.10h1.80v1.80h-1.80zM321.30 131.10h1.80v1.80h-1.80zM323.46 127.11h1.80v1.80h-1.80zM325.62 125.43h1.80v1.80h-1.80zM327.78 123.69h1.80v1.80h-1.80zM329.94 121.90h1.80v1.80h-1.80zM332.10 120.07h1.80v1.80h-1.80zM334.26 118.20h1.80v1.80h-1.80zM336.42 116.32h1.80v1.80h-1.80zM338.58 114.42h1.80v1.80h-1.80zM340.74 112.50h1.80v1.80h-1.80zM342.90 110.61h1.80v1.80h-1.80zM345.06 108.81h1.80v1.80h-1.80zM347.22 107.06h1.80v1.80h-1.80zM349.38 105.39h1.80v1.80h-1.80zM351.54 103.75h1.80v1.80h-1.80zM353.70 102.37h1.80v1.80h-1.80zM355.86 101.25h1.80v1.80h-1.80zM358.02 100.15h1.80v1.80h-1.80zM360.18 98.91h1.80v1.80h-1.80zM362.34 97.77h1.80v1.80h-1.80zM364.50 96.72h1.80v1.80h-1.80zM366.66 95.75h1.80v1.80h-1.80zM368.82 94.88h1.80v1.80h-1.80zM370.98 94.14h1.80v1.80h-1.80zM373.14 93.49h1.80v1.80h-1.80zM375.30 92.90h1.80v1.80h-1.80zM377.46 92.34h1.80v1.80h-1.80zM379.62 91.77h1.80v1.80h-1.80zM381.78 91.22h1.80v1.80h-1.80zM383.94 90.69h1.80v1.80h-1.80zM386.10 90.19h1.80v1.80h-1.80zM388.26 89.75h1.80v1.80h-1.80zM390.42 89.37h1.80v1.80h-1.80zM392.58 89.01h1.80v1.80h-1.80zM394.74 88.67h1.80v1.80h-1.80zM396.90 88.35h1.80v1.80h-1.80zM399.06 88.05h1.80v1.80h-1.80zM401.22 87.75h1.80v1.80h-1.80zM403.38 87.48h1.80v1.80h-1.80zM405.54 87.22h1.80v1.80h-1.80zM407.70 86.97h1.80v1.80h-1.80zM409.86 86.73h1.80v1.80h-1.80zM412.02 86.51h1.80v1.80h-1.80zM414.18 86.29h1.80v1.80h-1.80zM416.34 86.08h1.80v1.80h-1.80zM418.50 85.88h1.80v1.80h-1.80zM420.66 85.67h1.80v1.80h-1.80zM422.82 85.47h1.80v1.80h-1.80zM424.98 85.29h1.80v1.80h-1.80zM427.14 85.11h1.80v1.80h-1.80zM429.30 84.94h1.80v1.80h-1.80zM431.46 84.79h1.80v1.80h-1.80zM433.62 84.65h1.80v1.80h-1.80zM435.78 84.54h1.80v1.80h-1.80zM437.94 84.44h1.80v1.80h-1.80zM440.10 84.37h1.80v1.80h-1.80zM442.26 84.31h1.80v1.80h-1.80zM444.42 84.25h1.80v1.80h-1.80zM446.58 84.20h1.80v1.80h-1.80zM448.74 84.15h1.80v1.80h-1.80zM450.90 84.11h1.80v1.80h-1.80zM453.06 84.07h1.80v1.80h-1.80zM455.22 84.04h1.80v1.80h-1.80zM457.38 84.00h1.80v1.80h-1.80zM459.54 83.97h1.80v1.80h-1.80zM461.70 83.93h1.80v1.80h-1.80zM463.86 83.90h1.80v1.80h-1.80zM466.02 83.86h1.80v1.80h-1.80zM468.18 83.82h1.80v1.80h-1.80z" fill="none" stroke="#f37c87" stroke-width="0.5"/>
</g>
<g clip-path="url(#clb)">
<path d="M333.00 118.29V127.08M330.70 118.29h4.60M330.70 127.08h4.60M335.16 115.30V123.36M332.86 115.30h4.60M332.86 123.36h4.60M337.32 111.72V119.19M335.02 111.72h4.60M335.02 119.19h4.60M339.48 108.02V115.03M337.18 108.02h4.60M337.18 115.03h4.60M341.64 104.48V111.17M339.34 104.48h4.60M339.34 111.17h4.60M343.80 101.01V107.54M341.50 101.01h4.60M341.50 107.54h4.60M345.96 97.60V104.11M343.66 97.60h4.60M343.66 104.11h4.60M348.12 94.21V100.75M345.82 94.21h4.60M345.82 100.75h4.60M350.28 90.70V97.32M347.98 90.70h4.60M347.98 97.32h4.60M352.44 88.31V95.03M350.14 88.31h4.60M350.14 95.03h4.60M354.60 85.81V92.67M352.30 85.81h4.60M352.30 92.67h4.60M356.76 83.61V90.61M354.46 83.61h4.60M354.46 90.61h4.60M358.92 81.13V88.29M356.62 81.13h4.60M356.62 88.29h4.60M361.08 78.62V85.93M358.78 78.62h4.60M358.78 85.93h4.60M363.24 76.66V84.13M360.94 76.66h4.60M360.94 84.13h4.60M365.40 75.20V82.81M363.10 75.20h4.60M363.10 82.81h4.60M367.56 73.90V81.63M365.26 73.90h4.60M365.26 81.63h4.60M369.72 72.47V80.30M367.42 72.47h4.60M367.42 80.30h4.60M371.88 70.99V78.89M369.58 70.99h4.60M369.58 78.89h4.60M374.04 69.69V77.64M371.74 69.69h4.60M371.74 77.64h4.60M376.20 68.58V76.57M373.90 68.58h4.60M373.90 76.57h4.60M378.36 67.58V75.62M376.06 67.58h4.60M376.06 75.62h4.60M380.52 66.63V74.70M378.22 66.63h4.60M378.22 74.70h4.60M382.68 65.63V73.75M380.38 65.63h4.60M380.38 73.75h4.60M384.84 64.48V72.63M382.54 64.48h4.60M382.54 72.63h4.60M387.00 63.68V71.87M384.70 63.68h4.60M384.70 71.87h4.60M389.16 63.09V71.31M386.86 63.09h4.60M386.86 71.31h4.60M391.32 62.58V70.84M389.02 62.58h4.60M389.02 70.84h4.60M393.48 62.14V70.43M391.18 62.14h4.60M391.18 70.43h4.60M395.64 61.74V70.07M393.34 61.74h4.60M393.34 70.07h4.60M397.80 61.38V69.73M395.50 61.38h4.60M395.50 69.73h4.60M399.96 61.02V69.40M397.66 61.02h4.60M397.66 69.40h4.60M402.12 60.66V69.07M399.82 60.66h4.60M399.82 69.07h4.60M404.28 60.33V68.76M401.98 60.33h4.60M401.98 68.76h4.60M406.44 60.01V68.47M404.14 60.01h4.60M404.14 68.47h4.60M408.60 59.71V68.20M406.30 59.71h4.60M406.30 68.20h4.60M410.76 59.43V67.94M408.46 59.43h4.60M408.46 67.94h4.60M412.92 59.17V67.71M410.62 59.17h4.60M410.62 67.71h4.60M415.08 58.93V67.49M412.78 58.93h4.60M412.78 67.49h4.60M417.24 58.70V67.29M414.94 58.70h4.60M414.94 67.29h4.60M419.40 58.49V67.09M417.10 58.49h4.60M417.10 67.09h4.60M421.56 58.28V66.91M419.26 58.28h4.60M419.26 66.91h4.60M423.72 58.09V66.73M421.42 58.09h4.60M421.42 66.73h4.60M425.88 57.90V66.56M423.58 57.90h4.60M423.58 66.56h4.60M428.04 57.72V66.40M425.74 57.72h4.60M425.74 66.40h4.60M430.20 57.54V66.25M427.90 57.54h4.60M427.90 66.25h4.60M432.36 57.38V66.10M430.06 57.38h4.60M430.06 66.10h4.60M434.52 57.22V65.96M432.22 57.22h4.60M432.22 65.96h4.60M436.68 57.06V65.83M434.38 57.06h4.60M434.38 65.83h4.60M438.84 56.91V65.70M436.54 56.91h4.60M436.54 65.70h4.60M441.00 56.77V65.57M438.70 56.77h4.60M438.70 65.57h4.60M443.16 56.63V65.45M440.86 56.63h4.60M440.86 65.45h4.60M445.32 56.49V65.34M443.02 56.49h4.60M443.02 65.34h4.60M447.48 56.37V65.23M445.18 56.37h4.60M445.18 65.23h4.60M449.64 56.25V65.13M447.34 56.25h4.60M447.34 65.13h4.60M451.80 56.14V65.04M449.50 56.14h4.60M449.50 65.04h4.60M453.96 56.03V64.96M451.66 56.03h4.60M451.66 64.96h4.60M456.12 55.94V64.89M453.82 55.94h4.60M453.82 64.89h4.60M458.28 55.85V64.82M455.98 55.85h4.60M455.98 64.82h4.60M460.44 55.77V64.76M458.14 55.77h4.60M458.14 64.76h4.60M462.60 55.68V64.70M460.30 55.68h4.60M460.30 64.70h4.60M464.76 55.60V64.64M462.46 55.60h4.60M462.46 64.64h4.60M466.92 55.52V64.58M464.62 55.52h4.60M464.62 64.58h4.60M469.08 55.44V64.53M466.78 55.44h4.60M466.78 64.53h4.60" stroke="#cc0000" stroke-width="0.7" fill="none"/>
<path d="M298.44 119.00V164.00M296.14 119.00h4.60M296.14 164.00h4.60M300.60 138.77V165.50M298.30 138.77h4.60M302.76 127.33V165.50M300.46 127.33h4.60M304.92 134.01V165.50M302.62 134.01h4.60M307.08 136.94V165.50M304.78 136.94h4.60M309.24 134.23V165.50M306.94 134.23h4.60M311.40 139.09V165.50M309.10 139.09h4.60M313.56 134.59V165.50M311.26 134.59h4.60M315.72 133.25V165.50M313.42 133.25h4.60M317.88 135.19V165.50M315.58 135.19h4.60M320.04 134.01V163.97M317.74 134.01h4.60M317.74 163.97h4.60M322.20 132.68V158.87M319.90 132.68h4.60M319.90 158.87h4.60M324.36 128.69V149.53M322.06 128.69h4.60M322.06 149.53h4.60M326.52 130.32V145.68M324.22 130.32h4.60M324.22 145.68h4.60M328.68 126.54V137.77M326.38 126.54h4.60M326.38 137.77h4.60M330.84 122.60V132.24M328.54 122.60h4.60M328.54 132.24h4.60" stroke="#cc0000" stroke-width="0.5" fill="none"/>
<path d="M298.44 132.40l1.60 1.60l-1.60 1.60l-1.60 -1.60zM300.60 151.80l1.60 1.60l-1.60 1.60l-1.60 -1.60zM302.76 139.90l1.60 1.60l-1.60 1.60l-1.60 -1.60zM304.92 146.15l1.60 1.60l-1.60 1.60l-1.60 -1.60zM307.08 148.65l1.60 1.60l-1.60 1.60l-1.60 -1.60zM309.24 145.50l1.60 1.60l-1.60 1.60l-1.60 -1.60zM311.40 149.90l1.60 1.60l-1.60 1.60l-1.60 -1.60zM313.56 144.90l1.60 1.60l-1.60 1.60l-1.60 -1.60zM315.72 143.00l1.60 1.60l-1.60 1.60l-1.60 -1.60zM317.88 144.30l1.60 1.60l-1.60 1.60l-1.60 -1.60zM320.04 142.40l1.60 1.60l-1.60 1.60l-1.60 -1.60zM322.20 139.90l1.60 1.60l-1.60 1.60l-1.60 -1.60zM324.36 134.30l1.60 1.60l-1.60 1.60l-1.60 -1.60zM326.52 134.30l1.60 1.60l-1.60 1.60l-1.60 -1.60zM328.68 129.30l1.60 1.60l-1.60 1.60l-1.60 -1.60zM330.84 124.90l1.60 1.60l-1.60 1.60l-1.60 -1.60zM333.00 120.34l1.60 1.60l-1.60 1.60l-1.60 -1.60zM335.16 117.14l1.60 1.60l-1.60 1.60l-1.60 -1.60zM337.32 113.39l1.60 1.60l-1.60 1.60l-1.60 -1.60zM339.48 109.56l1.60 1.60l-1.60 1.60l-1.60 -1.60zM341.64 105.93l1.60 1.60l-1.60 1.60l-1.60 -1.60zM343.80 102.42l1.60 1.60l-1.60 1.60l-1.60 -1.60zM345.96 99.01l1.60 1.60l-1.60 1.60l-1.60 -1.60zM348.12 95.62l1.60 1.60l-1.60 1.60l-1.60 -1.60zM350.28 92.14l1.60 1.60l-1.60 1.60l-1.60 -1.60zM352.44 89.77l1.60 1.60l-1.60 1.60l-1.60 -1.60zM354.60 87.31l1.60 1.60l-1.60 1.60l-1.60 -1.60zM356.76 85.14l1.60 1.60l-1.60 1.60l-1.60 -1.60zM358.92 82.71l1.60 1.60l-1.60 1.60l-1.60 -1.60zM361.08 80.24l1.60 1.60l-1.60 1.60l-1.60 -1.60zM363.24 78.33l1.60 1.60l-1.60 1.60l-1.60 -1.60zM365.40 76.91l1.60 1.60l-1.60 1.60l-1.60 -1.60zM367.56 75.64l1.60 1.60l-1.60 1.60l-1.60 -1.60zM369.72 74.25l1.60 1.60l-1.60 1.60l-1.60 -1.60zM371.88 72.79l1.60 1.60l-1.60 1.60l-1.60 -1.60zM374.04 71.51l1.60 1.60l-1.60 1.60l-1.60 -1.60zM376.20 70.41l1.60 1.60l-1.60 1.60l-1.60 -1.60zM378.36 69.43l1.60 1.60l-1.60 1.60l-1.60 -1.60zM380.52 68.49l1.60 1.60l-1.60 1.60l-1.60 -1.60zM382.68 67.51l1.60 1.60l-1.60 1.60l-1.60 -1.60zM384.84 66.38l1.60 1.60l-1.60 1.60l-1.60 -1.60zM387.00 65.60l1.60 1.60l-1.60 1.60l-1.60 -1.60zM389.16 65.01l1.60 1.60l-1.60 1.60l-1.60 -1.60zM391.32 64.52l1.60 1.60l-1.60 1.60l-1.60 -1.60zM393.48 64.09l1.60 1.60l-1.60 1.60l-1.60 -1.60zM395.64 63.71l1.60 1.60l-1.60 1.60l-1.60 -1.60zM397.80 63.35l1.60 1.60l-1.60 1.60l-1.60 -1.60zM399.96 63.01l1.60 1.60l-1.60 1.60l-1.60 -1.60zM402.12 62.66l1.60 1.60l-1.60 1.60l-1.60 -1.60zM404.28 62.34l1.60 1.60l-1.60 1.60l-1.60 -1.60zM406.44 62.03l1.60 1.60l-1.60 1.60l-1.60 -1.60zM408.60 61.74l1.60 1.60l-1.60 1.60l-1.60 -1.60zM410.76 61.47l1.60 1.60l-1.60 1.60l-1.60 -1.60zM412.92 61.22l1.60 1.60l-1.60 1.60l-1.60 -1.60zM415.08 60.99l1.60 1.60l-1.60 1.60l-1.60 -1.60zM417.24 60.78l1.60 1.60l-1.60 1.60l-1.60 -1.60zM419.40 60.57l1.60 1.60l-1.60 1.60l-1.60 -1.60zM421.56 60.37l1.60 1.60l-1.60 1.60l-1.60 -1.60zM423.72 60.19l1.60 1.60l-1.60 1.60l-1.60 -1.60zM425.88 60.01l1.60 1.60l-1.60 1.60l-1.60 -1.60zM428.04 59.84l1.60 1.60l-1.60 1.60l-1.60 -1.60zM430.20 59.67l1.60 1.60l-1.60 1.60l-1.60 -1.60zM432.36 59.51l1.60 1.60l-1.60 1.60l-1.60 -1.60zM434.52 59.36l1.60 1.60l-1.60 1.60l-1.60 -1.60zM436.68 59.21l1.60 1.60l-1.60 1.60l-1.60 -1.60zM438.84 59.07l1.60 1.60l-1.60 1.60l-1.60 -1.60zM441.00 58.94l1.60 1.60l-1.60 1.60l-1.60 -1.60zM443.16 58.81l1.60 1.60l-1.60 1.60l-1.60 -1.60zM445.32 58.68l1.60 1.60l-1.60 1.60l-1.60 -1.60zM447.48 58.57l1.60 1.60l-1.60 1.60l-1.60 -1.60zM449.64 58.46l1.60 1.60l-1.60 1.60l-1.60 -1.60zM451.80 58.35l1.60 1.60l-1.60 1.60l-1.60 -1.60zM453.96 58.26l1.60 1.60l-1.60 1.60l-1.60 -1.60zM456.12 58.17l1.60 1.60l-1.60 1.60l-1.60 -1.60zM458.28 58.09l1.60 1.60l-1.60 1.60l-1.60 -1.60zM460.44 58.02l1.60 1.60l-1.60 1.60l-1.60 -1.60zM462.60 57.95l1.60 1.60l-1.60 1.60l-1.60 -1.60zM464.76 57.88l1.60 1.60l-1.60 1.60l-1.60 -1.60zM466.92 57.81l1.60 1.60l-1.60 1.60l-1.60 -1.60zM469.08 57.73l1.60 1.60l-1.60 1.60l-1.60 -1.60z" fill="#cc0000" stroke="#cc0000" stroke-width="0.5"/>
</g>
<rect x="289.5" y="25.5" width="187.0" height="140.0" fill="none" stroke="#4d4d4d" stroke-width="1"/>
<path d="M322.5 165.5v-3.5M322.5 25.5v3.5M365.5 165.5v-3.5M365.5 25.5v3.5M409.5 165.5v-3.5M409.5 25.5v3.5M452.5 165.5v-3.5M452.5 25.5v3.5M289.5 162.70h5M476.5 162.70h-5M289.5 152.53h3M476.5 152.53h-3M289.5 146.57h3M476.5 146.57h-3M289.5 142.35h3M476.5 142.35h-3M289.5 139.07h3M476.5 139.07h-3M289.5 136.40h3M476.5 136.40h-3M289.5 134.14h3M476.5 134.14h-3M289.5 132.18h3M476.5 132.18h-3M289.5 130.45h3M476.5 130.45h-3M289.5 128.90h5M476.5 128.90h-5M289.5 118.73h3M476.5 118.73h-3M289.5 112.77h3M476.5 112.77h-3M289.5 108.55h3M476.5 108.55h-3M289.5 105.27h3M476.5 105.27h-3M289.5 102.60h3M476.5 102.60h-3M289.5 100.34h3M476.5 100.34h-3M289.5 98.38h3M476.5 98.38h-3M289.5 96.65h3M476.5 96.65h-3M289.5 95.10h5M476.5 95.10h-5M289.5 84.93h3M476.5 84.93h-3M289.5 78.97h3M476.5 78.97h-3M289.5 74.75h3M476.5 74.75h-3M289.5 71.47h3M476.5 71.47h-3M289.5 68.80h3M476.5 68.80h-3M289.5 66.54h3M476.5 66.54h-3M289.5 64.58h3M476.5 64.58h-3M289.5 62.85h3M476.5 62.85h-3M289.5 61.30h5M476.5 61.30h-5M289.5 51.13h3M476.5 51.13h-3M289.5 45.17h3M476.5 45.17h-3M289.5 40.95h3M476.5 40.95h-3M289.5 37.67h3M476.5 37.67h-3M289.5 35.00h3M476.5 35.00h-3M289.5 32.74h3M476.5 32.74h-3M289.5 30.78h3M476.5 30.78h-3M289.5 29.05h3M476.5 29.05h-3M289.5 27.50h5M476.5 27.50h-5" stroke="#4d4d4d" stroke-width="1" fill="none"/>
<text x="321.6" y="177.4" class="tl" text-anchor="middle">10</text>
<text x="364.8" y="177.4" class="tl" text-anchor="middle">15</text>
<text x="408.0" y="177.4" class="tl" text-anchor="middle">20</text>
<text x="451.2" y="177.4" class="tl" text-anchor="middle">25</text>
<text x="276.9" y="167.1" class="tl" text-anchor="middle">10<tspan class="sup" dy="-5.5">-3</tspan></text>
<text x="276.9" y="133.3" class="tl" text-anchor="middle">10<tspan class="sup" dy="-5.5">-2</tspan></text>
<text x="276.9" y="99.5" class="tl" text-anchor="middle">10<tspan class="sup" dy="-5.5">-1</tspan></text>
<text x="276.9" y="65.7" class="tl" text-anchor="middle">10<tspan class="sup" dy="-5.5">0</tspan></text>
<text x="276.9" y="31.9" class="tl" text-anchor="middle">10<tspan class="sup" dy="-5.5">1</tspan></text>
<text x="353.5" y="192.1" class="at" textLength="73" lengthAdjust="spacingAndGlyphs">Time (min)</text>
<text transform="translate(258.3,92.5) rotate(-90)" class="at" text-anchor="middle" textLength="71.5" lengthAdjust="spacingAndGlyphs"><tspan font-style="italic">G&#8242;, G&#8243;</tspan> (Pa)</text>
<text x="333.3" y="20.7" class="ti" textLength="90.1" lengthAdjust="spacingAndGlyphs"><tspan class="om">&#969;</tspan> = 1.0 rad/s</text>
<text transform="translate(248.5,12.0) scale(0.95,1)" class="pl">b</text>
<rect x="436.4" y="136.7" width="23.4" height="17.1" fill="#111"/>
<rect x="435.2" y="135.2" width="23.4" height="17.1" fill="#fff" stroke="#222" stroke-width="0.9"/>
<circle cx="443.0" cy="140.4" r="1.6" fill="#cc0000"/>
<rect x="441.4" y="145.6" width="3.2" height="3.2" fill="none" stroke="#f59aa2" stroke-width="0.6"/>
<text x="450.7" y="142.4" class="lg">G&#8242;</text>
<text x="450.7" y="149.2" class="lg">G&#8243;</text>
<g clip-path="url(#clc)">
<path d="M546.24 128.95V132.96M543.94 128.95h4.60M543.94 132.96h4.60M548.40 128.47V132.57M546.10 128.47h4.60M546.10 132.57h4.60M550.56 127.99V132.18M548.26 127.99h4.60M548.26 132.18h4.60M552.72 127.57V131.84M550.42 127.57h4.60M550.42 131.84h4.60M554.88 127.22V131.59M552.58 127.22h4.60M552.58 131.59h4.60M557.04 126.92V131.37M554.74 126.92h4.60M554.74 131.37h4.60M559.20 126.58V131.12M556.90 126.58h4.60M556.90 131.12h4.60M561.36 126.15V130.78M559.06 126.15h4.60M559.06 130.78h4.60M563.52 125.53V130.25M561.22 125.53h4.60M561.22 130.25h4.60M565.68 124.62V129.43M563.38 124.62h4.60M563.38 129.43h4.60M567.84 123.58V128.48M565.54 123.58h4.60M565.54 128.48h4.60M570.00 122.32V127.32M567.70 122.32h4.60M567.70 127.32h4.60M572.16 120.87V125.99M569.86 120.87h4.60M569.86 125.99h4.60M574.32 119.19V124.49M572.02 119.19h4.60M572.02 124.49h4.60M576.48 117.29V122.81M574.18 117.29h4.60M574.18 122.81h4.60M578.64 115.12V120.89M576.34 115.12h4.60M576.34 120.89h4.60M580.80 112.73V118.77M578.50 112.73h4.60M578.50 118.77h4.60M582.96 110.61V116.93M580.66 110.61h4.60M580.66 116.93h4.60M585.12 108.74V115.36M582.82 108.74h4.60M582.82 115.36h4.60M587.28 106.89V113.79M584.98 106.89h4.60M584.98 113.79h4.60M589.44 104.90V112.08M587.14 104.90h4.60M587.14 112.08h4.60M591.60 103.09V110.51M589.30 103.09h4.60M589.30 110.51h4.60M593.76 101.77V109.41M591.46 101.77h4.60M591.46 109.41h4.60M595.92 100.68V108.49M593.62 100.68h4.60M593.62 108.49h4.60M598.08 99.35V107.29M595.78 99.35h4.60M595.78 107.29h4.60M600.24 97.76V105.77M597.94 97.76h4.60M597.94 105.77h4.60M602.40 96.20V104.25M600.10 96.20h4.60M600.10 104.25h4.60M604.56 94.69V102.77M602.26 94.69h4.60M602.26 102.77h4.60M606.72 93.20V101.32M604.42 93.20h4.60M604.42 101.32h4.60M608.88 91.80V99.95M606.58 91.80h4.60M606.58 99.95h4.60M611.04 90.51V98.69M608.74 90.51h4.60M608.74 98.69h4.60M613.20 89.30V97.51M610.90 89.30h4.60M610.90 97.51h4.60M615.36 88.16V96.41M613.06 88.16h4.60M613.06 96.41h4.60M617.52 87.13V95.39M615.22 87.13h4.60M615.22 95.39h4.60M619.68 86.13V94.43M617.38 86.13h4.60M617.38 94.43h4.60M621.84 85.19V93.50M619.54 85.19h4.60M619.54 93.50h4.60M624.00 84.33V92.66M621.70 84.33h4.60M621.70 92.66h4.60M626.16 83.58V91.92M623.86 83.58h4.60M623.86 91.92h4.60M628.32 82.95V91.31M626.02 82.95h4.60M626.02 91.31h4.60M630.48 82.38V90.75M628.18 82.38h4.60M628.18 90.75h4.60M632.64 81.85V90.24M630.34 81.85h4.60M630.34 90.24h4.60M634.80 81.37V89.76M632.50 81.37h4.60M632.50 89.76h4.60M636.96 80.93V89.33M634.66 80.93h4.60M634.66 89.33h4.60M639.12 80.54V88.94M636.82 80.54h4.60M636.82 88.94h4.60M641.28 80.20V88.60M638.98 80.20h4.60M638.98 88.60h4.60M643.44 79.91V88.30M641.14 79.91h4.60M641.14 88.30h4.60M645.60 79.63V88.02M643.30 79.63h4.60M643.30 88.02h4.60M647.76 79.37V87.76M645.46 79.37h4.60M645.46 87.76h4.60M649.92 79.13V87.52M647.62 79.13h4.60M647.62 87.52h4.60M652.08 78.91V87.29M649.78 78.91h4.60M649.78 87.29h4.60M654.24 78.71V87.08M651.94 78.71h4.60M651.94 87.08h4.60M656.40 78.52V86.89M654.10 78.52h4.60M654.10 86.89h4.60M658.56 78.35V86.72M656.26 78.35h4.60M656.26 86.72h4.60M660.72 78.21V86.56M658.42 78.21h4.60M658.42 86.56h4.60M662.88 78.07V86.42M660.58 78.07h4.60M660.58 86.42h4.60M665.04 77.95V86.28M662.74 77.95h4.60M662.74 86.28h4.60M667.20 77.83V86.15M664.90 77.83h4.60M664.90 86.15h4.60M669.36 77.72V86.03M667.06 77.72h4.60M667.06 86.03h4.60M671.52 77.61V85.91M669.22 77.61h4.60M669.22 85.91h4.60M673.68 77.51V85.80M671.38 77.51h4.60M671.38 85.80h4.60M675.84 77.42V85.70M673.54 77.42h4.60M673.54 85.70h4.60M678.00 77.34V85.60M675.70 77.34h4.60M675.70 85.60h4.60M680.16 77.27V85.52M677.86 77.27h4.60M677.86 85.52h4.60M682.32 77.20V85.44M680.02 77.20h4.60M680.02 85.44h4.60M684.48 77.15V85.37M682.18 77.15h4.60M682.18 85.37h4.60M686.64 77.10V85.31M684.34 77.10h4.60M684.34 85.31h4.60M688.80 77.07V85.26M686.50 77.07h4.60M686.50 85.26h4.60M690.96 77.04V85.21M688.66 77.04h4.60M688.66 85.21h4.60M693.12 77.01V85.17M690.82 77.01h4.60M690.82 85.17h4.60M695.28 76.98V85.13M692.98 76.98h4.60M692.98 85.13h4.60M697.44 76.96V85.10M695.14 76.96h4.60M695.14 85.10h4.60M699.60 76.94V85.06M697.30 76.94h4.60M697.30 85.06h4.60M701.76 76.92V85.03M699.46 76.92h4.60M699.46 85.03h4.60M703.92 76.90V85.00M701.62 76.90h4.60M701.62 85.00h4.60M706.08 76.89V84.97M703.78 76.89h4.60M703.78 84.97h4.60M708.24 76.87V84.94M705.94 76.87h4.60M705.94 84.94h4.60M710.40 76.85V84.91M708.10 76.85h4.60M708.10 84.91h4.60M712.56 76.83V84.88M710.26 76.83h4.60M710.26 84.88h4.60M714.72 76.82V84.84M712.42 76.82h4.60M712.42 84.84h4.60M716.88 76.79V84.81M714.58 76.79h4.60M714.58 84.81h4.60" stroke="#f37c87" stroke-width="0.75" fill="none"/>
<path d="M545.34 130.55h1.80v1.80h-1.80zM547.50 130.07h1.80v1.80h-1.80zM549.66 129.59h1.80v1.80h-1.80zM551.82 129.17h1.80v1.80h-1.80zM553.98 128.82h1.80v1.80h-1.80zM556.14 128.52h1.80v1.80h-1.80zM558.30 128.18h1.80v1.80h-1.80zM560.46 127.75h1.80v1.80h-1.80zM562.62 127.13h1.80v1.80h-1.80zM564.78 126.22h1.80v1.80h-1.80zM566.94 125.18h1.80v1.80h-1.80zM569.10 123.92h1.80v1.80h-1.80zM571.26 122.49h1.80v1.80h-1.80zM573.42 120.87h1.80v1.80h-1.80zM575.58 119.06h1.80v1.80h-1.80zM577.74 117.00h1.80v1.80h-1.80zM579.90 114.75h1.80v1.80h-1.80zM582.06 112.78h1.80v1.80h-1.80zM584.22 111.06h1.80v1.80h-1.80zM586.38 109.37h1.80v1.80h-1.80zM588.54 107.54h1.80v1.80h-1.80zM590.70 105.86h1.80v1.80h-1.80zM592.86 104.67h1.80v1.80h-1.80zM595.02 103.67h1.80v1.80h-1.80zM597.18 102.42h1.80v1.80h-1.80zM599.34 100.87h1.80v1.80h-1.80zM601.50 99.33h1.80v1.80h-1.80zM603.66 97.83h1.80v1.80h-1.80zM605.82 96.36h1.80v1.80h-1.80zM607.98 94.97h1.80v1.80h-1.80zM610.14 93.70h1.80v1.80h-1.80zM612.30 92.50h1.80v1.80h-1.80zM614.46 91.38h1.80v1.80h-1.80zM616.62 90.36h1.80v1.80h-1.80zM618.78 89.38h1.80v1.80h-1.80zM620.94 88.45h1.80v1.80h-1.80zM623.10 87.59h1.80v1.80h-1.80zM625.26 86.85h1.80v1.80h-1.80zM627.42 86.23h1.80v1.80h-1.80zM629.58 85.67h1.80v1.80h-1.80zM631.74 85.14h1.80v1.80h-1.80zM633.90 84.66h1.80v1.80h-1.80zM636.06 84.23h1.80v1.80h-1.80zM638.22 83.84h1.80v1.80h-1.80zM640.38 83.50h1.80v1.80h-1.80zM642.54 83.20h1.80v1.80h-1.80zM644.70 82.93h1.80v1.80h-1.80zM646.86 82.67h1.80v1.80h-1.80zM649.02 82.42h1.80v1.80h-1.80zM651.18 82.20h1.80v1.80h-1.80zM653.34 81.99h1.80v1.80h-1.80zM655.50 81.81h1.80v1.80h-1.80zM657.66 81.64h1.80v1.80h-1.80zM659.82 81.48h1.80v1.80h-1.80zM661.98 81.35h1.80v1.80h-1.80zM664.14 81.22h1.80v1.80h-1.80zM666.30 81.09h1.80v1.80h-1.80zM668.46 80.97h1.80v1.80h-1.80zM670.62 80.86h1.80v1.80h-1.80zM672.78 80.76h1.80v1.80h-1.80zM674.94 80.66h1.80v1.80h-1.80zM677.10 80.57h1.80v1.80h-1.80zM679.26 80.49h1.80v1.80h-1.80zM681.42 80.42h1.80v1.80h-1.80zM683.58 80.36h1.80v1.80h-1.80zM685.74 80.31h1.80v1.80h-1.80zM687.90 80.26h1.80v1.80h-1.80zM690.06 80.22h1.80v1.80h-1.80zM692.22 80.19h1.80v1.80h-1.80zM694.38 80.16h1.80v1.80h-1.80zM696.54 80.13h1.80v1.80h-1.80zM698.70 80.10h1.80v1.80h-1.80zM700.86 80.07h1.80v1.80h-1.80zM703.02 80.05h1.80v1.80h-1.80zM705.18 80.03h1.80v1.80h-1.80zM707.34 80.00h1.80v1.80h-1.80zM709.50 79.98h1.80v1.80h-1.80zM711.66 79.96h1.80v1.80h-1.80zM713.82 79.93h1.80v1.80h-1.80zM715.98 79.90h1.80v1.80h-1.80z" fill="none" stroke="#f37c87" stroke-width="0.5"/>
</g>
<g clip-path="url(#clc)">
<path d="M578.64 110.43V129.63M576.34 110.43h4.60M576.34 129.63h4.60M580.80 107.14V126.26M578.50 107.14h4.60M578.50 126.26h4.60M582.96 103.88V122.94M580.66 103.88h4.60M580.66 122.94h4.60M585.12 100.59V119.62M582.82 100.59h4.60M582.82 119.62h4.60M587.28 97.31V116.32M584.98 97.31h4.60M584.98 116.32h4.60M589.44 94.02V113.01M587.14 94.02h4.60M587.14 113.01h4.60M591.60 90.81V109.77M589.30 90.81h4.60M589.30 109.77h4.60M593.76 87.76V106.66M591.46 87.76h4.60M591.46 106.66h4.60M595.92 84.87V103.68M593.62 84.87h4.60M593.62 103.68h4.60M598.08 82.31V100.98M595.78 82.31h4.60M595.78 100.98h4.60M600.24 80.06V98.54M597.94 80.06h4.60M597.94 98.54h4.60M602.40 77.91V96.13M600.10 77.91h4.60M600.10 96.13h4.60M604.56 75.75V93.64M602.26 75.75h4.60M602.26 93.64h4.60M606.72 73.66V91.17M604.42 73.66h4.60M604.42 91.17h4.60M608.88 71.76V88.84M606.58 71.76h4.60M606.58 88.84h4.60M611.04 70.10V86.72M608.74 70.10h4.60M608.74 86.72h4.60M613.20 68.60V84.73M610.90 68.60h4.60M610.90 84.73h4.60M615.36 67.25V82.86M613.06 67.25h4.60M613.06 82.86h4.60M617.52 66.05V81.13M615.22 66.05h4.60M615.22 81.13h4.60M619.68 64.94V79.49M617.38 64.94h4.60M617.38 79.49h4.60M621.84 63.90V77.94M619.54 63.90h4.60M619.54 77.94h4.60M624.00 62.96V76.49M621.70 62.96h4.60M621.70 76.49h4.60M626.16 62.13V75.16M623.86 62.13h4.60M623.86 75.16h4.60M628.32 61.38V73.96M626.02 61.38h4.60M626.02 73.96h4.60M630.48 60.66V72.82M628.18 60.66h4.60M628.18 72.82h4.60M632.64 59.97V71.76M630.34 59.97h4.60M630.34 71.76h4.60M634.80 59.31V70.79M632.50 59.31h4.60M632.50 70.79h4.60M636.96 58.70V69.92M634.66 58.70h4.60M634.66 69.92h4.60M639.12 58.14V69.19M636.82 58.14h4.60M636.82 69.19h4.60M641.28 57.66V68.60M638.98 57.66h4.60M638.98 68.60h4.60M643.44 57.27V68.11M641.14 57.27h4.60M641.14 68.11h4.60M645.60 56.91V67.66M643.30 56.91h4.60M643.30 67.66h4.60M647.76 56.59V67.25M645.46 56.59h4.60M645.46 67.25h4.60M649.92 56.29V66.86M647.62 56.29h4.60M647.62 66.86h4.60M652.08 56.02V66.51M649.78 56.02h4.60M649.78 66.51h4.60M654.24 55.77V66.19M651.94 55.77h4.60M651.94 66.19h4.60M656.40 55.54V65.89M654.10 55.54h4.60M654.10 65.89h4.60M658.56 55.32V65.60M656.26 55.32h4.60M656.26 65.60h4.60M660.72 55.12V65.34M658.42 55.12h4.60M658.42 65.34h4.60M662.88 54.93V65.09M660.58 54.93h4.60M660.58 65.09h4.60M665.04 54.75V64.84M662.74 54.75h4.60M662.74 64.84h4.60M667.20 54.57V64.61M664.90 54.57h4.60M664.90 64.61h4.60M669.36 54.40V64.39M667.06 54.40h4.60M667.06 64.39h4.60M671.52 54.24V64.18M669.22 54.24h4.60M669.22 64.18h4.60M673.68 54.08V63.98M671.38 54.08h4.60M671.38 63.98h4.60M675.84 53.94V63.79M673.54 53.94h4.60M673.54 63.79h4.60M678.00 53.80V63.61M675.70 53.80h4.60M675.70 63.61h4.60M680.16 53.68V63.44M677.86 53.68h4.60M677.86 63.44h4.60M682.32 53.56V63.28M680.02 53.56h4.60M680.02 63.28h4.60M684.48 53.45V63.14M682.18 53.45h4.60M682.18 63.14h4.60M686.64 53.36V63.00M684.34 53.36h4.60M684.34 63.00h4.60M688.80 53.27V62.88M686.50 53.27h4.60M686.50 62.88h4.60M690.96 53.19V62.76M688.66 53.19h4.60M688.66 62.76h4.60M693.12 53.11V62.65M690.82 53.11h4.60M690.82 62.65h4.60M695.28 53.05V62.54M692.98 53.05h4.60M692.98 62.54h4.60M697.44 52.98V62.44M695.14 52.98h4.60M695.14 62.44h4.60M699.60 52.92V62.34M697.30 52.92h4.60M697.30 62.34h4.60M701.76 52.86V62.25M699.46 52.86h4.60M699.46 62.25h4.60M703.92 52.81V62.15M701.62 52.81h4.60M701.62 62.15h4.60M706.08 52.76V62.06M703.78 52.76h4.60M703.78 62.06h4.60M708.24 52.70V61.96M705.94 52.70h4.60M705.94 61.96h4.60M710.40 52.65V61.87M708.10 52.65h4.60M708.10 61.87h4.60M712.56 52.60V61.77M710.26 52.60h4.60M710.26 61.77h4.60M714.72 52.54V61.67M712.42 52.54h4.60M712.42 61.67h4.60M716.88 52.49V61.56M714.58 52.49h4.60M714.58 61.56h4.60" stroke="#cc0000" stroke-width="0.7" fill="none"/>
<path d="M546.24 133.50V158.45M543.94 133.50h4.60M543.94 158.45h4.60M548.40 138.60V163.08M546.10 138.60h4.60M546.10 163.08h4.60M550.56 139.70V163.69M548.26 139.70h4.60M548.26 163.69h4.60M552.72 139.30V162.78M550.42 139.30h4.60M550.42 162.78h4.60M554.88 138.00V160.97M552.58 138.00h4.60M552.58 160.97h4.60M557.04 136.20V158.66M554.74 136.20h4.60M554.74 158.66h4.60M559.20 141.30V163.26M556.90 141.30h4.60M556.90 163.26h4.60M561.36 136.20V157.69M559.06 136.20h4.60M559.06 157.69h4.60M563.52 131.90V152.95M561.22 131.90h4.60M561.22 152.95h4.60M565.68 129.90V150.55M563.38 129.90h4.60M563.38 150.55h4.60M567.84 127.20V147.49M565.54 127.20h4.60M565.54 147.49h4.60M570.00 124.90V144.90M567.70 124.90h4.60M567.70 144.90h4.60M572.16 121.80V141.55M569.86 121.80h4.60M569.86 141.55h4.60M574.32 117.80V137.33M572.02 117.80h4.60M572.02 137.33h4.60M576.48 114.39V133.73M574.18 114.39h4.60M574.18 133.73h4.60" stroke="#cc0000" stroke-width="0.5" fill="none"/>
<path d="M546.24 136.90l1.60 1.60l-1.60 1.60l-1.60 -1.60zM548.40 142.00l1.60 1.60l-1.60 1.60l-1.60 -1.60zM550.56 143.10l1.60 1.60l-1.60 1.60l-1.60 -1.60zM552.72 142.70l1.60 1.60l-1.60 1.60l-1.60 -1.60zM554.88 141.40l1.60 1.60l-1.60 1.60l-1.60 -1.60zM557.04 139.60l1.60 1.60l-1.60 1.60l-1.60 -1.60zM559.20 144.70l1.60 1.60l-1.60 1.60l-1.60 -1.60zM561.36 139.60l1.60 1.60l-1.60 1.60l-1.60 -1.60zM563.52 135.30l1.60 1.60l-1.60 1.60l-1.60 -1.60zM565.68 133.30l1.60 1.60l-1.60 1.60l-1.60 -1.60zM567.84 130.60l1.60 1.60l-1.60 1.60l-1.60 -1.60zM570.00 128.30l1.60 1.60l-1.60 1.60l-1.60 -1.60zM572.16 125.20l1.60 1.60l-1.60 1.60l-1.60 -1.60zM574.32 121.20l1.60 1.60l-1.60 1.60l-1.60 -1.60zM576.48 117.80l1.60 1.60l-1.60 1.60l-1.60 -1.60zM578.64 113.88l1.60 1.60l-1.60 1.60l-1.60 -1.60zM580.80 110.68l1.60 1.60l-1.60 1.60l-1.60 -1.60zM582.96 107.52l1.60 1.60l-1.60 1.60l-1.60 -1.60zM585.12 104.35l1.60 1.60l-1.60 1.60l-1.60 -1.60zM587.28 101.19l1.60 1.60l-1.60 1.60l-1.60 -1.60zM589.44 98.04l1.60 1.60l-1.60 1.60l-1.60 -1.60zM591.60 94.95l1.60 1.60l-1.60 1.60l-1.60 -1.60zM593.76 92.00l1.60 1.60l-1.60 1.60l-1.60 -1.60zM595.92 89.20l1.60 1.60l-1.60 1.60l-1.60 -1.60zM598.08 86.69l1.60 1.60l-1.60 1.60l-1.60 -1.60zM600.24 84.46l1.60 1.60l-1.60 1.60l-1.60 -1.60zM602.40 82.30l1.60 1.60l-1.60 1.60l-1.60 -1.60zM604.56 80.09l1.60 1.60l-1.60 1.60l-1.60 -1.60zM606.72 77.92l1.60 1.60l-1.60 1.60l-1.60 -1.60zM608.88 75.93l1.60 1.60l-1.60 1.60l-1.60 -1.60zM611.04 74.16l1.60 1.60l-1.60 1.60l-1.60 -1.60zM613.20 72.53l1.60 1.60l-1.60 1.60l-1.60 -1.60zM615.36 71.04l1.60 1.60l-1.60 1.60l-1.60 -1.60zM617.52 69.69l1.60 1.60l-1.60 1.60l-1.60 -1.60zM619.68 68.42l1.60 1.60l-1.60 1.60l-1.60 -1.60zM621.84 67.23l1.60 1.60l-1.60 1.60l-1.60 -1.60zM624.00 66.14l1.60 1.60l-1.60 1.60l-1.60 -1.60zM626.16 65.15l1.60 1.60l-1.60 1.60l-1.60 -1.60zM628.32 64.27l1.60 1.60l-1.60 1.60l-1.60 -1.60zM630.48 63.42l1.60 1.60l-1.60 1.60l-1.60 -1.60zM632.64 62.61l1.60 1.60l-1.60 1.60l-1.60 -1.60zM634.80 61.85l1.60 1.60l-1.60 1.60l-1.60 -1.60zM636.96 61.16l1.60 1.60l-1.60 1.60l-1.60 -1.60zM639.12 60.56l1.60 1.60l-1.60 1.60l-1.60 -1.60zM641.28 60.05l1.60 1.60l-1.60 1.60l-1.60 -1.60zM643.44 59.63l1.60 1.60l-1.60 1.60l-1.60 -1.60zM645.60 59.25l1.60 1.60l-1.60 1.60l-1.60 -1.60zM647.76 58.90l1.60 1.60l-1.60 1.60l-1.60 -1.60zM649.92 58.58l1.60 1.60l-1.60 1.60l-1.60 -1.60zM652.08 58.29l1.60 1.60l-1.60 1.60l-1.60 -1.60zM654.24 58.02l1.60 1.60l-1.60 1.60l-1.60 -1.60zM656.40 57.77l1.60 1.60l-1.60 1.60l-1.60 -1.60zM658.56 57.54l1.60 1.60l-1.60 1.60l-1.60 -1.60zM660.72 57.32l1.60 1.60l-1.60 1.60l-1.60 -1.60zM662.88 57.12l1.60 1.60l-1.60 1.60l-1.60 -1.60zM665.04 56.92l1.60 1.60l-1.60 1.60l-1.60 -1.60zM667.20 56.73l1.60 1.60l-1.60 1.60l-1.60 -1.60zM669.36 56.55l1.60 1.60l-1.60 1.60l-1.60 -1.60zM671.52 56.37l1.60 1.60l-1.60 1.60l-1.60 -1.60zM673.68 56.21l1.60 1.60l-1.60 1.60l-1.60 -1.60zM675.84 56.05l1.60 1.60l-1.60 1.60l-1.60 -1.60zM678.00 55.90l1.60 1.60l-1.60 1.60l-1.60 -1.60zM680.16 55.77l1.60 1.60l-1.60 1.60l-1.60 -1.60zM682.32 55.64l1.60 1.60l-1.60 1.60l-1.60 -1.60zM684.48 55.52l1.60 1.60l-1.60 1.60l-1.60 -1.60zM686.64 55.42l1.60 1.60l-1.60 1.60l-1.60 -1.60zM688.80 55.32l1.60 1.60l-1.60 1.60l-1.60 -1.60zM690.96 55.23l1.60 1.60l-1.60 1.60l-1.60 -1.60zM693.12 55.15l1.60 1.60l-1.60 1.60l-1.60 -1.60zM695.28 55.07l1.60 1.60l-1.60 1.60l-1.60 -1.60zM697.44 55.00l1.60 1.60l-1.60 1.60l-1.60 -1.60zM699.60 54.93l1.60 1.60l-1.60 1.60l-1.60 -1.60zM701.76 54.86l1.60 1.60l-1.60 1.60l-1.60 -1.60zM703.92 54.79l1.60 1.60l-1.60 1.60l-1.60 -1.60zM706.08 54.73l1.60 1.60l-1.60 1.60l-1.60 -1.60zM708.24 54.67l1.60 1.60l-1.60 1.60l-1.60 -1.60zM710.40 54.61l1.60 1.60l-1.60 1.60l-1.60 -1.60zM712.56 54.54l1.60 1.60l-1.60 1.60l-1.60 -1.60zM714.72 54.47l1.60 1.60l-1.60 1.60l-1.60 -1.60zM716.88 54.40l1.60 1.60l-1.60 1.60l-1.60 -1.60z" fill="#cc0000" stroke="#cc0000" stroke-width="0.5"/>
</g>
<rect x="536.5" y="25.5" width="188.0" height="140.0" fill="none" stroke="#4d4d4d" stroke-width="1"/>
<path d="M570.5 165.5v-3.5M570.5 25.5v3.5M613.5 165.5v-3.5M613.5 25.5v3.5M656.5 165.5v-3.5M656.5 25.5v3.5M700.5 165.5v-3.5M700.5 25.5v3.5M536.5 162.60h5M724.5 162.60h-5M536.5 152.49h3M724.5 152.49h-3M536.5 146.57h3M724.5 146.57h-3M536.5 142.37h3M724.5 142.37h-3M536.5 139.11h3M724.5 139.11h-3M536.5 136.45h3M724.5 136.45h-3M536.5 134.20h3M724.5 134.20h-3M536.5 132.26h3M724.5 132.26h-3M536.5 130.54h3M724.5 130.54h-3M536.5 129.00h5M724.5 129.00h-5M536.5 118.89h3M724.5 118.89h-3M536.5 112.97h3M724.5 112.97h-3M536.5 108.77h3M724.5 108.77h-3M536.5 105.51h3M724.5 105.51h-3M536.5 102.85h3M724.5 102.85h-3M536.5 100.60h3M724.5 100.60h-3M536.5 98.66h3M724.5 98.66h-3M536.5 96.94h3M724.5 96.94h-3M536.5 95.40h5M724.5 95.40h-5M536.5 85.29h3M724.5 85.29h-3M536.5 79.37h3M724.5 79.37h-3M536.5 75.17h3M724.5 75.17h-3M536.5 71.91h3M724.5 71.91h-3M536.5 69.25h3M724.5 69.25h-3M536.5 67.00h3M724.5 67.00h-3M536.5 65.06h3M724.5 65.06h-3M536.5 63.34h3M724.5 63.34h-3M536.5 61.80h5M724.5 61.80h-5M536.5 51.69h3M724.5 51.69h-3M536.5 45.77h3M724.5 45.77h-3M536.5 41.57h3M724.5 41.57h-3M536.5 38.31h3M724.5 38.31h-3M536.5 35.65h3M724.5 35.65h-3M536.5 33.40h3M724.5 33.40h-3M536.5 31.46h3M724.5 31.46h-3M536.5 29.74h3M724.5 29.74h-3M536.5 28.20h5M724.5 28.20h-5" stroke="#4d4d4d" stroke-width="1" fill="none"/>
<text x="569.4" y="177.4" class="tl" text-anchor="middle">10</text>
<text x="612.6" y="177.4" class="tl" text-anchor="middle">15</text>
<text x="655.8" y="177.4" class="tl" text-anchor="middle">20</text>
<text x="699.0" y="177.4" class="tl" text-anchor="middle">25</text>
<text x="523.9" y="167.0" class="tl" text-anchor="middle">10<tspan class="sup" dy="-5.5">-3</tspan></text>
<text x="523.9" y="133.4" class="tl" text-anchor="middle">10<tspan class="sup" dy="-5.5">-2</tspan></text>
<text x="523.9" y="99.8" class="tl" text-anchor="middle">10<tspan class="sup" dy="-5.5">-1</tspan></text>
<text x="523.9" y="66.2" class="tl" text-anchor="middle">10<tspan class="sup" dy="-5.5">0</tspan></text>
<text x="523.9" y="32.6" class="tl" text-anchor="middle">10<tspan class="sup" dy="-5.5">1</tspan></text>
<text x="600.5" y="192.1" class="at" textLength="73" lengthAdjust="spacingAndGlyphs">Time (min)</text>
<text transform="translate(505.3,92.5) rotate(-90)" class="at" text-anchor="middle" textLength="71.5" lengthAdjust="spacingAndGlyphs"><tspan font-style="italic">G&#8242;, G&#8243;</tspan> (Pa)</text>
<text x="580.5" y="20.7" class="ti" textLength="89.8" lengthAdjust="spacingAndGlyphs"><tspan class="om">&#969;</tspan> = 2.5 rad/s</text>
<text transform="translate(497.0,11.0) scale(0.95,1)" class="pl">c</text>
<rect x="681.2" y="134.7" width="27.8" height="19.8" fill="#111"/>
<rect x="680.0" y="133.3" width="27.8" height="19.8" fill="#fff" stroke="#222" stroke-width="0.9"/>
<circle cx="689.2" cy="139.2" r="1.8" fill="#cc0000"/>
<rect x="687.4" y="145.4" width="3.6" height="3.6" fill="none" stroke="#f59aa2" stroke-width="0.6"/>
<text x="698.3" y="141.2" class="lg">G&#8242;</text>
<text x="698.3" y="149.2" class="lg">G&#8243;</text>
<g clip-path="url(#cld)">
<path d="M174.04 339.49V341.50M171.74 339.49h4.60M171.74 341.50h4.60M176.20 339.03V341.31M173.90 339.03h4.60M173.90 341.31h4.60M178.36 338.57V341.13M176.06 338.57h4.60M176.06 341.13h4.60M180.52 338.10V340.94M178.22 338.10h4.60M178.22 340.94h4.60M182.68 337.65V340.76M180.38 337.65h4.60M180.38 340.76h4.60M184.84 337.14V340.53M182.54 337.14h4.60M182.54 340.53h4.60M187.00 336.47V340.12M184.70 336.47h4.60M184.70 340.12h4.60M189.16 335.65V339.55M186.86 335.65h4.60M186.86 339.55h4.60M191.32 334.71V338.86M189.02 334.71h4.60M189.02 338.86h4.60M193.48 333.59V338.01M191.18 333.59h4.60M191.18 338.01h4.60M195.64 332.28V336.98M193.34 332.28h4.60M193.34 336.98h4.60M197.80 330.71V335.70M195.50 330.71h4.60M195.50 335.70h4.60M199.96 328.90V334.17M197.66 328.90h4.60M197.66 334.17h4.60M202.12 326.73V332.28M199.82 326.73h4.60M199.82 332.28h4.60M204.28 324.32V330.15M201.98 324.32h4.60M201.98 330.15h4.60M206.44 322.00V328.10M204.14 322.00h4.60M204.14 328.10h4.60M208.60 319.71V326.04M206.30 319.71h4.60M206.30 326.04h4.60M210.76 317.49V324.04M208.46 317.49h4.60M208.46 324.04h4.60M212.92 315.35V322.07M210.62 315.35h4.60M210.62 322.07h4.60M215.08 313.30V320.16M212.78 313.30h4.60M212.78 320.16h4.60M217.24 311.29V318.24M214.94 311.29h4.60M214.94 318.24h4.60M219.40 309.44V316.44M217.10 309.44h4.60M217.10 316.44h4.60M221.56 308.00V314.97M219.26 308.00h4.60M219.26 314.97h4.60M223.72 306.81V313.68M221.42 306.81h4.60M221.42 313.68h4.60M225.88 305.60V312.30M223.58 305.60h4.60M223.58 312.30h4.60M228.04 304.32V310.79M225.74 304.32h4.60M225.74 310.79h4.60M230.20 303.31V309.52M227.90 303.31h4.60M227.90 309.52h4.60M232.36 302.62V308.54M230.06 302.62h4.60M230.06 308.54h4.60M234.52 302.06V307.70M232.22 302.06h4.60M232.22 307.70h4.60M236.68 301.56V306.92M234.38 301.56h4.60M234.38 306.92h4.60M238.84 301.05V306.17M236.54 301.05h4.60M236.54 306.17h4.60M241.00 300.55V305.46M238.70 300.55h4.60M238.70 305.46h4.60M243.16 300.10V304.79M240.86 300.10h4.60M240.86 304.79h4.60M245.32 299.69V304.16M243.02 299.69h4.60M243.02 304.16h4.60M247.48 299.32V303.56M245.18 299.32h4.60M245.18 303.56h4.60M249.64 298.98V302.98M247.34 298.98h4.60M247.34 302.98h4.60M251.80 298.67V302.43M249.50 298.67h4.60M249.50 302.43h4.60M253.96 298.40V301.93M251.66 298.40h4.60M251.66 301.93h4.60M256.12 298.17V301.49M253.82 298.17h4.60M253.82 301.49h4.60M258.28 297.97V301.08M255.98 297.97h4.60M255.98 301.08h4.60M260.44 297.77V300.70M258.14 297.77h4.60M258.14 300.70h4.60M262.60 297.59V300.35M260.30 297.59h4.60M260.30 300.35h4.60M264.76 297.41V300.03M262.46 297.41h4.60M262.46 300.03h4.60M266.92 297.24V299.75M264.62 297.24h4.60M264.62 299.75h4.60M269.08 297.07V299.50M266.78 297.07h4.60M266.78 299.50h4.60M271.24 296.90V299.28M268.94 296.90h4.60M268.94 299.28h4.60M273.40 296.74V299.07M271.10 296.74h4.60M271.10 299.07h4.60M275.56 296.58V298.87M273.26 296.58h4.60M273.26 298.87h4.60M277.72 296.43V298.68M275.42 296.43h4.60M275.42 298.68h4.60M279.88 296.29V298.50M277.58 296.29h4.60M277.58 298.50h4.60M282.04 296.16V298.34M279.74 296.16h4.60M279.74 298.34h4.60M284.20 296.03V298.18M281.90 296.03h4.60M281.90 298.18h4.60M286.36 295.92V298.04M284.06 295.92h4.60M284.06 298.04h4.60M288.52 295.82V297.91M286.22 295.82h4.60M286.22 297.91h4.60M290.68 295.74V297.80M288.38 295.74h4.60M288.38 297.80h4.60M292.84 295.66V297.70M290.54 295.66h4.60M290.54 297.70h4.60M295.00 295.58V297.60M292.70 295.58h4.60M292.70 297.60h4.60M297.16 295.51V297.51M294.86 295.51h4.60M294.86 297.51h4.60M299.32 295.45V297.42M297.02 295.45h4.60M297.02 297.42h4.60M301.48 295.39V297.34M299.18 295.39h4.60M299.18 297.34h4.60M303.64 295.33V297.26M301.34 295.33h4.60M301.34 297.26h4.60M305.80 295.27V297.19M303.50 295.27h4.60M303.50 297.19h4.60M307.96 295.22V297.12M305.66 295.22h4.60M305.66 297.12h4.60M310.12 295.18V297.05M307.82 295.18h4.60M307.82 297.05h4.60M312.28 295.13V296.99M309.98 295.13h4.60M309.98 296.99h4.60M314.44 295.09V296.94M312.14 295.09h4.60M312.14 296.94h4.60M316.60 295.05V296.88M314.30 295.05h4.60M314.30 296.88h4.60M318.76 295.01V296.83M316.46 295.01h4.60M316.46 296.83h4.60M320.92 294.98V296.78M318.62 294.98h4.60M318.62 296.78h4.60M323.08 294.95V296.73M320.78 294.95h4.60M320.78 296.73h4.60M325.24 294.92V296.69M322.94 294.92h4.60M322.94 296.69h4.60M327.40 294.89V296.65M325.10 294.89h4.60M325.10 296.65h4.60M329.56 294.87V296.61M327.26 294.87h4.60M327.26 296.61h4.60M331.72 294.84V296.56M329.42 294.84h4.60M329.42 296.56h4.60M333.88 294.82V296.52M331.58 294.82h4.60M331.58 296.52h4.60M336.04 294.80V296.48M333.74 294.80h4.60M333.74 296.48h4.60M338.20 294.77V296.44M335.90 294.77h4.60M335.90 296.44h4.60M340.36 294.75V296.40M338.06 294.75h4.60M338.06 296.40h4.60M342.52 294.73V296.35M340.22 294.73h4.60M340.22 296.35h4.60M344.68 294.70V296.31M342.38 294.70h4.60M342.38 296.31h4.60" stroke="#f37c87" stroke-width="0.75" fill="none"/>
<path d="M172.34 338.79h3.40v3.40h-3.40zM174.50 338.47h3.40v3.40h-3.40zM176.66 338.15h3.40v3.40h-3.40zM178.82 337.82h3.40v3.40h-3.40zM180.98 337.51h3.40v3.40h-3.40zM183.14 337.13h3.40v3.40h-3.40zM185.30 336.60h3.40v3.40h-3.40zM187.46 335.90h3.40v3.40h-3.40zM189.62 335.09h3.40v3.40h-3.40zM191.78 334.10h3.40v3.40h-3.40zM193.94 332.93h3.40v3.40h-3.40zM196.10 331.50h3.40v3.40h-3.40zM198.26 329.83h3.40v3.40h-3.40zM200.42 327.80h3.40v3.40h-3.40zM202.58 325.54h3.40v3.40h-3.40zM204.74 323.35h3.40v3.40h-3.40zM206.90 321.18h3.40v3.40h-3.40zM209.06 319.07h3.40v3.40h-3.40zM211.22 317.01h3.40v3.40h-3.40zM213.38 315.03h3.40v3.40h-3.40zM215.54 313.06h3.40v3.40h-3.40zM217.70 311.24h3.40v3.40h-3.40zM219.86 309.79h3.40v3.40h-3.40zM222.02 308.54h3.40v3.40h-3.40zM224.18 307.25h3.40v3.40h-3.40zM226.34 305.86h3.40v3.40h-3.40zM228.50 304.71h3.40v3.40h-3.40zM230.66 303.88h3.40v3.40h-3.40zM232.82 303.18h3.40v3.40h-3.40zM234.98 302.54h3.40v3.40h-3.40zM237.14 301.91h3.40v3.40h-3.40zM239.30 301.31h3.40v3.40h-3.40zM241.46 300.74h3.40v3.40h-3.40zM243.62 300.23h3.40v3.40h-3.40zM245.78 299.74h3.40v3.40h-3.40zM247.94 299.28h3.40v3.40h-3.40zM250.10 298.85h3.40v3.40h-3.40zM252.26 298.47h3.40v3.40h-3.40zM254.42 298.13h3.40v3.40h-3.40zM256.58 297.82h3.40v3.40h-3.40zM258.74 297.54h3.40v3.40h-3.40zM260.90 297.27h3.40v3.40h-3.40zM263.06 297.02h3.40v3.40h-3.40zM265.22 296.79h3.40v3.40h-3.40zM267.38 296.58h3.40v3.40h-3.40zM269.54 296.39h3.40v3.40h-3.40zM271.70 296.20h3.40v3.40h-3.40zM273.86 296.03h3.40v3.40h-3.40zM276.02 295.86h3.40v3.40h-3.40zM278.18 295.70h3.40v3.40h-3.40zM280.34 295.55h3.40v3.40h-3.40zM282.50 295.41h3.40v3.40h-3.40zM284.66 295.28h3.40v3.40h-3.40zM286.82 295.17h3.40v3.40h-3.40zM288.98 295.07h3.40v3.40h-3.40zM291.14 294.98h3.40v3.40h-3.40zM293.30 294.89h3.40v3.40h-3.40zM295.46 294.81h3.40v3.40h-3.40zM297.62 294.73h3.40v3.40h-3.40zM299.78 294.66h3.40v3.40h-3.40zM301.94 294.59h3.40v3.40h-3.40zM304.10 294.53h3.40v3.40h-3.40zM306.26 294.47h3.40v3.40h-3.40zM308.42 294.42h3.40v3.40h-3.40zM310.58 294.36h3.40v3.40h-3.40zM312.74 294.31h3.40v3.40h-3.40zM314.90 294.27h3.40v3.40h-3.40zM317.06 294.22h3.40v3.40h-3.40zM319.22 294.18h3.40v3.40h-3.40zM321.38 294.14h3.40v3.40h-3.40zM323.54 294.11h3.40v3.40h-3.40zM325.70 294.07h3.40v3.40h-3.40zM327.86 294.04h3.40v3.40h-3.40zM330.02 294.00h3.40v3.40h-3.40zM332.18 293.97h3.40v3.40h-3.40zM334.34 293.94h3.40v3.40h-3.40zM336.50 293.91h3.40v3.40h-3.40zM338.66 293.87h3.40v3.40h-3.40zM340.82 293.84h3.40v3.40h-3.40zM342.98 293.81h3.40v3.40h-3.40z" fill="none" stroke="#f37c87" stroke-width="0.5"/>
</g>
<g clip-path="url(#cld)">
<path d="M202.12 318.46V359.91M199.82 318.46h4.60M199.82 359.91h4.60M204.28 314.46V350.16M201.98 314.46h4.60M201.98 350.16h4.60M206.44 311.27V341.49M204.14 311.27h4.60M204.14 341.49h4.60M208.60 308.57V334.12M206.30 308.57h4.60M206.30 334.12h4.60M210.76 305.76V327.60M208.46 305.76h4.60M208.46 327.60h4.60M212.92 302.76V322.34M210.62 302.76h4.60M210.62 322.34h4.60M215.08 299.90V317.82M212.78 299.90h4.60M212.78 317.82h4.60M217.24 297.31V313.83M214.94 297.31h4.60M214.94 313.83h4.60M219.40 294.93V310.27M217.10 294.93h4.60M217.10 310.27h4.60M221.56 292.77V307.09M219.26 292.77h4.60M219.26 307.09h4.60M223.72 290.80V304.23M221.42 290.80h4.60M221.42 304.23h4.60M225.88 289.25V301.84M223.58 289.25h4.60M223.58 301.84h4.60M228.04 288.02V299.84M225.74 288.02h4.60M225.74 299.84h4.60M230.20 286.89V297.98M227.90 286.89h4.60M227.90 297.98h4.60M232.36 285.71V296.14M230.06 285.71h4.60M230.06 296.14h4.60M234.52 284.56V294.39M232.22 284.56h4.60M232.22 294.39h4.60M236.68 283.49V292.79M234.38 283.49h4.60M234.38 292.79h4.60M238.84 282.56V291.39M236.54 282.56h4.60M236.54 291.39h4.60M241.00 281.70V290.15M238.70 281.70h4.60M238.70 290.15h4.60M243.16 280.93V289.05M240.86 280.93h4.60M240.86 289.05h4.60M245.32 280.21V288.06M243.02 280.21h4.60M243.02 288.06h4.60M247.48 279.52V287.14M245.18 279.52h4.60M245.18 287.14h4.60M249.64 278.87V286.26M247.34 278.87h4.60M247.34 286.26h4.60M251.80 278.27V285.44M249.50 278.27h4.60M249.50 285.44h4.60M253.96 277.72V284.70M251.66 277.72h4.60M251.66 284.70h4.60M256.12 277.24V284.04M253.82 277.24h4.60M253.82 284.04h4.60M258.28 276.79V283.43M255.98 276.79h4.60M255.98 283.43h4.60M260.44 276.37V282.86M258.14 276.37h4.60M258.14 282.86h4.60M262.60 275.97V282.34M260.30 275.97h4.60M260.30 282.34h4.60M264.76 275.60V281.86M262.46 275.60h4.60M262.46 281.86h4.60M266.92 275.25V281.43M264.62 275.25h4.60M264.62 281.43h4.60M269.08 274.93V281.05M266.78 274.93h4.60M266.78 281.05h4.60M271.24 274.63V280.71M268.94 274.63h4.60M268.94 280.71h4.60M273.40 274.36V280.40M271.10 274.36h4.60M271.10 280.40h4.60M275.56 274.09V280.10M273.26 274.09h4.60M273.26 280.10h4.60M277.72 273.85V279.82M275.42 273.85h4.60M275.42 279.82h4.60M279.88 273.61V279.56M277.58 273.61h4.60M277.58 279.56h4.60M282.04 273.40V279.31M279.74 273.40h4.60M279.74 279.31h4.60M284.20 273.19V279.07M281.90 273.19h4.60M281.90 279.07h4.60M286.36 273.00V278.85M284.06 273.00h4.60M284.06 278.85h4.60M288.52 272.82V278.65M286.22 272.82h4.60M286.22 278.65h4.60M290.68 272.65V278.46M288.38 272.65h4.60M288.38 278.46h4.60M292.84 272.49V278.27M290.54 272.49h4.60M290.54 278.27h4.60M295.00 272.34V278.10M292.70 272.34h4.60M292.70 278.10h4.60M297.16 272.19V277.94M294.86 272.19h4.60M294.86 277.94h4.60M299.32 272.05V277.78M297.02 272.05h4.60M297.02 277.78h4.60M301.48 271.92V277.63M299.18 271.92h4.60M299.18 277.63h4.60M303.64 271.79V277.49M301.34 271.79h4.60M301.34 277.49h4.60M305.80 271.67V277.35M303.50 271.67h4.60M303.50 277.35h4.60M307.96 271.56V277.22M305.66 271.56h4.60M305.66 277.22h4.60M310.12 271.44V277.09M307.82 271.44h4.60M307.82 277.09h4.60M312.28 271.33V276.97M309.98 271.33h4.60M309.98 276.97h4.60M314.44 271.23V276.85M312.14 271.23h4.60M312.14 276.85h4.60M316.60 271.12V276.73M314.30 271.12h4.60M314.30 276.73h4.60M318.76 271.03V276.62M316.46 271.03h4.60M316.46 276.62h4.60M320.92 270.93V276.51M318.62 270.93h4.60M318.62 276.51h4.60M323.08 270.84V276.40M320.78 270.84h4.60M320.78 276.40h4.60M325.24 270.75V276.30M322.94 270.75h4.60M322.94 276.30h4.60M327.40 270.67V276.20M325.10 270.67h4.60M325.10 276.20h4.60M329.56 270.59V276.11M327.26 270.59h4.60M327.26 276.11h4.60M331.72 270.50V276.01M329.42 270.50h4.60M329.42 276.01h4.60M333.88 270.42V275.91M331.58 270.42h4.60M331.58 275.91h4.60M336.04 270.34V275.82M333.74 270.34h4.60M333.74 275.82h4.60M338.20 270.26V275.72M335.90 270.26h4.60M335.90 275.72h4.60M340.36 270.18V275.62M338.06 270.18h4.60M338.06 275.62h4.60M342.52 270.10V275.52M340.22 270.10h4.60M340.22 275.52h4.60M344.68 270.01V275.42M342.38 270.01h4.60M342.38 275.42h4.60" stroke="#cc0000" stroke-width="0.7" fill="none"/>
<path d="M174.04 354.71V385.50M171.74 354.71h4.60M176.20 408.53V385.50M173.90 408.53h4.60M178.36 356.81V385.50M176.06 356.81h4.60M180.52 355.49V385.50M178.22 355.49h4.60M182.68 358.27V385.50M180.38 358.27h4.60M184.84 353.89V385.50M182.54 353.89h4.60M187.00 345.97V385.50M184.70 345.97h4.60M189.16 339.82V385.50M186.86 339.82h4.60M191.32 335.33V385.50M189.02 335.33h4.60M193.48 331.47V385.50M191.18 331.47h4.60M195.64 328.24V385.50M193.34 328.24h4.60M197.80 325.82V385.50M195.50 325.82h4.60M199.96 322.69V368.85M197.66 322.69h4.60M197.66 368.85h4.60" stroke="#cc0000" stroke-width="0.5" fill="none"/>
<path d="M174.04 370.10l1.60 1.60l-1.60 1.60l-1.60 -1.60zM178.36 371.20l1.60 1.60l-1.60 1.60l-1.60 -1.60zM180.52 369.40l1.60 1.60l-1.60 1.60l-1.60 -1.60zM182.68 371.70l1.60 1.60l-1.60 1.60l-1.60 -1.60zM184.84 366.80l1.60 1.60l-1.60 1.60l-1.60 -1.60zM187.00 358.30l1.60 1.60l-1.60 1.60l-1.60 -1.60zM189.16 351.50l1.60 1.60l-1.60 1.60l-1.60 -1.60zM191.32 346.20l1.60 1.60l-1.60 1.60l-1.60 -1.60zM193.48 341.20l1.60 1.60l-1.60 1.60l-1.60 -1.60zM195.64 336.70l1.60 1.60l-1.60 1.60l-1.60 -1.60zM197.80 333.10l1.60 1.60l-1.60 1.60l-1.60 -1.60zM199.96 329.10l1.60 1.60l-1.60 1.60l-1.60 -1.60zM202.12 324.27l1.60 1.60l-1.60 1.60l-1.60 -1.60zM204.28 319.73l1.60 1.60l-1.60 1.60l-1.60 -1.60zM206.44 316.06l1.60 1.60l-1.60 1.60l-1.60 -1.60zM208.60 312.93l1.60 1.60l-1.60 1.60l-1.60 -1.60zM210.76 309.75l1.60 1.60l-1.60 1.60l-1.60 -1.60zM212.92 306.42l1.60 1.60l-1.60 1.60l-1.60 -1.60zM215.08 303.29l1.60 1.60l-1.60 1.60l-1.60 -1.60zM217.24 300.45l1.60 1.60l-1.60 1.60l-1.60 -1.60zM219.40 297.83l1.60 1.60l-1.60 1.60l-1.60 -1.60zM221.56 295.44l1.60 1.60l-1.60 1.60l-1.60 -1.60zM223.72 293.25l1.60 1.60l-1.60 1.60l-1.60 -1.60zM225.88 291.49l1.60 1.60l-1.60 1.60l-1.60 -1.60zM228.04 290.08l1.60 1.60l-1.60 1.60l-1.60 -1.60zM230.20 288.78l1.60 1.60l-1.60 1.60l-1.60 -1.60zM232.36 287.45l1.60 1.60l-1.60 1.60l-1.60 -1.60zM234.52 286.17l1.60 1.60l-1.60 1.60l-1.60 -1.60zM236.68 285.00l1.60 1.60l-1.60 1.60l-1.60 -1.60zM238.84 283.99l1.60 1.60l-1.60 1.60l-1.60 -1.60zM241.00 283.08l1.60 1.60l-1.60 1.60l-1.60 -1.60zM243.16 282.25l1.60 1.60l-1.60 1.60l-1.60 -1.60zM245.32 281.49l1.60 1.60l-1.60 1.60l-1.60 -1.60zM247.48 280.76l1.60 1.60l-1.60 1.60l-1.60 -1.60zM249.64 280.07l1.60 1.60l-1.60 1.60l-1.60 -1.60zM251.80 279.43l1.60 1.60l-1.60 1.60l-1.60 -1.60zM253.96 278.85l1.60 1.60l-1.60 1.60l-1.60 -1.60zM256.12 278.34l1.60 1.60l-1.60 1.60l-1.60 -1.60zM258.28 277.87l1.60 1.60l-1.60 1.60l-1.60 -1.60zM260.44 277.42l1.60 1.60l-1.60 1.60l-1.60 -1.60zM262.60 277.00l1.60 1.60l-1.60 1.60l-1.60 -1.60zM264.76 276.61l1.60 1.60l-1.60 1.60l-1.60 -1.60zM266.92 276.25l1.60 1.60l-1.60 1.60l-1.60 -1.60zM269.08 275.93l1.60 1.60l-1.60 1.60l-1.60 -1.60zM271.24 275.63l1.60 1.60l-1.60 1.60l-1.60 -1.60zM273.40 275.36l1.60 1.60l-1.60 1.60l-1.60 -1.60zM275.56 275.09l1.60 1.60l-1.60 1.60l-1.60 -1.60zM277.72 274.85l1.60 1.60l-1.60 1.60l-1.60 -1.60zM279.88 274.61l1.60 1.60l-1.60 1.60l-1.60 -1.60zM282.04 274.40l1.60 1.60l-1.60 1.60l-1.60 -1.60zM284.20 274.19l1.60 1.60l-1.60 1.60l-1.60 -1.60zM286.36 274.00l1.60 1.60l-1.60 1.60l-1.60 -1.60zM288.52 273.82l1.60 1.60l-1.60 1.60l-1.60 -1.60zM290.68 273.65l1.60 1.60l-1.60 1.60l-1.60 -1.60zM292.84 273.49l1.60 1.60l-1.60 1.60l-1.60 -1.60zM295.00 273.34l1.60 1.60l-1.60 1.60l-1.60 -1.60zM297.16 273.19l1.60 1.60l-1.60 1.60l-1.60 -1.60zM299.32 273.05l1.60 1.60l-1.60 1.60l-1.60 -1.60zM301.48 272.92l1.60 1.60l-1.60 1.60l-1.60 -1.60zM303.64 272.79l1.60 1.60l-1.60 1.60l-1.60 -1.60zM305.80 272.67l1.60 1.60l-1.60 1.60l-1.60 -1.60zM307.96 272.56l1.60 1.60l-1.60 1.60l-1.60 -1.60zM310.12 272.44l1.60 1.60l-1.60 1.60l-1.60 -1.60zM312.28 272.33l1.60 1.60l-1.60 1.60l-1.60 -1.60zM314.44 272.23l1.60 1.60l-1.60 1.60l-1.60 -1.60zM316.60 272.12l1.60 1.60l-1.60 1.60l-1.60 -1.60zM318.76 272.03l1.60 1.60l-1.60 1.60l-1.60 -1.60zM320.92 271.93l1.60 1.60l-1.60 1.60l-1.60 -1.60zM323.08 271.84l1.60 1.60l-1.60 1.60l-1.60 -1.60zM325.24 271.75l1.60 1.60l-1.60 1.60l-1.60 -1.60zM327.40 271.67l1.60 1.60l-1.60 1.60l-1.60 -1.60zM329.56 271.59l1.60 1.60l-1.60 1.60l-1.60 -1.60zM331.72 271.50l1.60 1.60l-1.60 1.60l-1.60 -1.60zM333.88 271.42l1.60 1.60l-1.60 1.60l-1.60 -1.60zM336.04 271.34l1.60 1.60l-1.60 1.60l-1.60 -1.60zM338.20 271.26l1.60 1.60l-1.60 1.60l-1.60 -1.60zM340.36 271.18l1.60 1.60l-1.60 1.60l-1.60 -1.60zM342.52 271.10l1.60 1.60l-1.60 1.60l-1.60 -1.60zM344.68 271.01l1.60 1.60l-1.60 1.60l-1.60 -1.60z" fill="#cc0000" stroke="#cc0000" stroke-width="0.5"/>
</g>
<rect x="164.5" y="245.5" width="188.0" height="140.0" fill="none" stroke="#4d4d4d" stroke-width="1"/>
<path d="M198.5 385.5v-3.5M198.5 245.5v3.5M241.5 385.5v-3.5M241.5 245.5v3.5M284.5 385.5v-3.5M284.5 245.5v3.5M327.5 385.5v-3.5M327.5 245.5v3.5M164.5 383.50h5M352.5 383.50h-5M164.5 373.26h3M352.5 373.26h-3M164.5 367.28h3M352.5 367.28h-3M164.5 363.03h3M352.5 363.03h-3M164.5 359.74h3M352.5 359.74h-3M164.5 357.04h3M352.5 357.04h-3M164.5 354.77h3M352.5 354.77h-3M164.5 352.79h3M352.5 352.79h-3M164.5 351.06h3M352.5 351.06h-3M164.5 349.50h5M352.5 349.50h-5M164.5 339.26h3M352.5 339.26h-3M164.5 333.28h3M352.5 333.28h-3M164.5 329.03h3M352.5 329.03h-3M164.5 325.74h3M352.5 325.74h-3M164.5 323.04h3M352.5 323.04h-3M164.5 320.77h3M352.5 320.77h-3M164.5 318.79h3M352.5 318.79h-3M164.5 317.06h3M352.5 317.06h-3M164.5 315.50h5M352.5 315.50h-5M164.5 305.26h3M352.5 305.26h-3M164.5 299.28h3M352.5 299.28h-3M164.5 295.03h3M352.5 295.03h-3M164.5 291.74h3M352.5 291.74h-3M164.5 289.04h3M352.5 289.04h-3M164.5 286.77h3M352.5 286.77h-3M164.5 284.79h3M352.5 284.79h-3M164.5 283.06h3M352.5 283.06h-3M164.5 281.50h5M352.5 281.50h-5M164.5 271.26h3M352.5 271.26h-3M164.5 265.28h3M352.5 265.28h-3M164.5 261.03h3M352.5 261.03h-3M164.5 257.74h3M352.5 257.74h-3M164.5 255.04h3M352.5 255.04h-3M164.5 252.77h3M352.5 252.77h-3M164.5 250.79h3M352.5 250.79h-3M164.5 249.06h3M352.5 249.06h-3M164.5 247.50h5M352.5 247.50h-5" stroke="#4d4d4d" stroke-width="1" fill="none"/>
<text x="197.2" y="397.4" class="tl" text-anchor="middle">10</text>
<text x="240.4" y="397.4" class="tl" text-anchor="middle">15</text>
<text x="283.6" y="397.4" class="tl" text-anchor="middle">20</text>
<text x="326.8" y="397.4" class="tl" text-anchor="middle">25</text>
<text x="151.9" y="387.9" class="tl" text-anchor="middle">10<tspan class="sup" dy="-5.5">-3</tspan></text>
<text x="151.9" y="353.9" class="tl" text-anchor="middle">10<tspan class="sup" dy="-5.5">-2</tspan></text>
<text x="151.9" y="319.9" class="tl" text-anchor="middle">10<tspan class="sup" dy="-5.5">-1</tspan></text>
<text x="151.9" y="285.9" class="tl" text-anchor="middle">10<tspan class="sup" dy="-5.5">0</tspan></text>
<text x="151.9" y="251.9" class="tl" text-anchor="middle">10<tspan class="sup" dy="-5.5">1</tspan></text>
<text x="228.5" y="412.1" class="at" textLength="73" lengthAdjust="spacingAndGlyphs">Time (min)</text>
<text transform="translate(133.3,312.5) rotate(-90)" class="at" text-anchor="middle" textLength="71.5" lengthAdjust="spacingAndGlyphs"><tspan font-style="italic">G&#8242;, G&#8243;</tspan> (Pa)</text>
<text x="216.1" y="240.7" class="ti" textLength="89.6" lengthAdjust="spacingAndGlyphs"><tspan class="om">&#969;</tspan> = 5.0 rad/s</text>
<text transform="translate(120.3,226.6) scale(0.95,1)" class="pl">d</text>
<rect x="311.6" y="356.9" width="23.7" height="16.8" fill="#111"/>
<rect x="310.4" y="355.5" width="23.7" height="16.8" fill="#fff" stroke="#222" stroke-width="0.9"/>
<circle cx="318.2" cy="360.5" r="1.6" fill="#cc0000"/>
<rect x="316.6" y="365.7" width="3.2" height="3.2" fill="none" stroke="#f59aa2" stroke-width="0.6"/>
<text x="326.0" y="362.5" class="lg">G&#8242;</text>
<text x="326.0" y="369.3" class="lg">G&#8243;</text>
<g clip-path="url(#cle)">
<path d="M423.04 326.65V329.25M420.74 326.65h4.60M420.74 329.25h4.60M425.20 326.27V328.94M422.90 326.27h4.60M422.90 328.94h4.60M427.36 325.89V328.63M425.06 325.89h4.60M425.06 328.63h4.60M429.52 325.51V328.32M427.22 325.51h4.60M427.22 328.32h4.60M431.68 325.16V328.03M429.38 325.16h4.60M429.38 328.03h4.60M433.84 324.76V327.70M431.54 324.76h4.60M431.54 327.70h4.60M436.00 324.28V327.30M433.70 324.28h4.60M433.70 327.30h4.60M438.16 323.69V326.80M435.86 323.69h4.60M435.86 326.80h4.60M440.32 322.94V326.15M438.02 322.94h4.60M438.02 326.15h4.60M442.48 321.93V325.29M440.18 321.93h4.60M440.18 325.29h4.60M444.64 320.62V324.17M442.34 320.62h4.60M442.34 324.17h4.60M446.80 318.76V322.52M444.50 318.76h4.60M444.50 322.52h4.60M448.96 316.78V320.78M446.66 316.78h4.60M446.66 320.78h4.60M451.12 315.02V319.26M448.82 315.02h4.60M448.82 319.26h4.60M453.28 313.30V317.78M450.98 313.30h4.60M450.98 317.78h4.60M455.44 311.58V316.26M453.14 311.58h4.60M453.14 316.26h4.60M457.60 309.87V314.73M455.30 309.87h4.60M455.30 314.73h4.60M459.76 308.17V313.16M457.46 308.17h4.60M457.46 313.16h4.60M461.92 306.41V311.49M459.62 306.41h4.60M459.62 311.49h4.60M464.08 304.87V310.03M461.78 304.87h4.60M461.78 310.03h4.60M466.24 303.68V308.91M463.94 303.68h4.60M463.94 308.91h4.60M468.40 302.62V307.93M466.10 302.62h4.60M466.10 307.93h4.60M470.56 301.58V306.96M468.26 301.58h4.60M468.26 306.96h4.60M472.72 300.59V306.03M470.42 300.59h4.60M470.42 306.03h4.60M474.88 299.73V305.23M472.58 299.73h4.60M472.58 305.23h4.60M477.04 298.99V304.54M474.74 298.99h4.60M474.74 304.54h4.60M479.20 298.35V303.95M476.90 298.35h4.60M476.90 303.95h4.60M481.36 297.76V303.41M479.06 297.76h4.60M479.06 303.41h4.60M483.52 297.23V302.93M481.22 297.23h4.60M481.22 302.93h4.60M485.68 296.77V302.51M483.38 296.77h4.60M483.38 302.51h4.60M487.84 296.40V302.18M485.54 296.40h4.60M485.54 302.18h4.60M490.00 296.09V301.92M487.70 296.09h4.60M487.70 301.92h4.60M492.16 295.81V301.67M489.86 295.81h4.60M489.86 301.67h4.60M494.32 295.50V301.40M492.02 295.50h4.60M492.02 301.40h4.60M496.48 295.14V301.08M494.18 295.14h4.60M494.18 301.08h4.60M498.64 294.74V300.72M496.34 294.74h4.60M496.34 300.72h4.60M500.80 294.37V300.39M498.50 294.37h4.60M498.50 300.39h4.60M502.96 294.07V300.12M500.66 294.07h4.60M500.66 300.12h4.60M505.12 293.87V299.96M502.82 293.87h4.60M502.82 299.96h4.60M507.28 293.72V299.84M504.98 293.72h4.60M504.98 299.84h4.60M509.44 293.58V299.74M507.14 293.58h4.60M507.14 299.74h4.60M511.60 293.46V299.65M509.30 293.46h4.60M509.30 299.65h4.60M513.76 293.35V299.58M511.46 293.35h4.60M511.46 299.58h4.60M515.92 293.25V299.51M513.62 293.25h4.60M513.62 299.51h4.60M518.08 293.14V299.43M515.78 293.14h4.60M515.78 299.43h4.60M520.24 293.04V299.36M517.94 293.04h4.60M517.94 299.36h4.60M522.40 292.93V299.28M520.10 292.93h4.60M520.10 299.28h4.60M524.56 292.82V299.20M522.26 292.82h4.60M522.26 299.20h4.60M526.72 292.72V299.13M524.42 292.72h4.60M524.42 299.13h4.60M528.88 292.62V299.06M526.58 292.62h4.60M526.58 299.06h4.60M531.04 292.52V298.99M528.74 292.52h4.60M528.74 298.99h4.60M533.20 292.43V298.92M530.90 292.43h4.60M530.90 298.92h4.60M535.36 292.35V298.87M533.06 292.35h4.60M533.06 298.87h4.60M537.52 292.27V298.81M535.22 292.27h4.60M535.22 298.81h4.60M539.68 292.20V298.77M537.38 292.20h4.60M537.38 298.77h4.60M541.84 292.13V298.72M539.54 292.13h4.60M539.54 298.72h4.60M544.00 292.06V298.68M541.70 292.06h4.60M541.70 298.68h4.60M546.16 292.00V298.64M543.86 292.00h4.60M543.86 298.64h4.60M548.32 291.93V298.61M546.02 291.93h4.60M546.02 298.61h4.60M550.48 291.87V298.57M548.18 291.87h4.60M548.18 298.57h4.60M552.64 291.81V298.54M550.34 291.81h4.60M550.34 298.54h4.60M554.80 291.76V298.51M552.50 291.76h4.60M552.50 298.51h4.60M556.96 291.71V298.48M554.66 291.71h4.60M554.66 298.48h4.60M559.12 291.66V298.46M556.82 291.66h4.60M556.82 298.46h4.60M561.28 291.62V298.44M558.98 291.62h4.60M558.98 298.44h4.60M563.44 291.58V298.43M561.14 291.58h4.60M561.14 298.43h4.60M565.60 291.55V298.42M563.30 291.55h4.60M563.30 298.42h4.60M567.76 291.52V298.41M565.46 291.52h4.60M565.46 298.41h4.60M569.92 291.49V298.40M567.62 291.49h4.60M567.62 298.40h4.60M572.08 291.46V298.40M569.78 291.46h4.60M569.78 298.40h4.60M574.24 291.43V298.40M571.94 291.43h4.60M571.94 298.40h4.60M576.40 291.41V298.40M574.10 291.41h4.60M574.10 298.40h4.60M578.56 291.38V298.40M576.26 291.38h4.60M576.26 298.40h4.60M580.72 291.36V298.40M578.42 291.36h4.60M578.42 298.40h4.60M582.88 291.33V298.40M580.58 291.33h4.60M580.58 298.40h4.60M585.04 291.31V298.40M582.74 291.31h4.60M582.74 298.40h4.60M587.20 291.28V298.40M584.90 291.28h4.60M584.90 298.40h4.60M589.36 291.26V298.40M587.06 291.26h4.60M587.06 298.40h4.60M591.52 291.23V298.40M589.22 291.23h4.60M589.22 298.40h4.60M593.68 291.20V298.40M591.38 291.20h4.60M591.38 298.40h4.60" stroke="#f37c87" stroke-width="0.75" fill="none"/>
<path d="M422.14 327.05h1.80v1.80h-1.80zM424.30 326.71h1.80v1.80h-1.80zM426.46 326.36h1.80v1.80h-1.80zM428.62 326.02h1.80v1.80h-1.80zM430.78 325.69h1.80v1.80h-1.80zM432.94 325.33h1.80v1.80h-1.80zM435.10 324.89h1.80v1.80h-1.80zM437.26 324.35h1.80v1.80h-1.80zM439.42 323.65h1.80v1.80h-1.80zM441.58 322.71h1.80v1.80h-1.80zM443.74 321.50h1.80v1.80h-1.80zM445.90 319.74h1.80v1.80h-1.80zM448.06 317.88h1.80v1.80h-1.80zM450.22 316.24h1.80v1.80h-1.80zM452.38 314.64h1.80v1.80h-1.80zM454.54 313.02h1.80v1.80h-1.80zM456.70 311.40h1.80v1.80h-1.80zM458.86 309.77h1.80v1.80h-1.80zM461.02 308.05h1.80v1.80h-1.80zM463.18 306.55h1.80v1.80h-1.80zM465.34 305.39h1.80v1.80h-1.80zM467.50 304.38h1.80v1.80h-1.80zM469.66 303.37h1.80v1.80h-1.80zM471.82 302.41h1.80v1.80h-1.80zM473.98 301.58h1.80v1.80h-1.80zM476.14 300.87h1.80v1.80h-1.80zM478.30 300.25h1.80v1.80h-1.80zM480.46 299.69h1.80v1.80h-1.80zM482.62 299.18h1.80v1.80h-1.80zM484.78 298.74h1.80v1.80h-1.80zM486.94 298.39h1.80v1.80h-1.80zM489.10 298.11h1.80v1.80h-1.80zM491.26 297.84h1.80v1.80h-1.80zM493.42 297.55h1.80v1.80h-1.80zM495.58 297.21h1.80v1.80h-1.80zM497.74 296.83h1.80v1.80h-1.80zM499.90 296.48h1.80v1.80h-1.80zM502.06 296.20h1.80v1.80h-1.80zM504.22 296.02h1.80v1.80h-1.80zM506.38 295.88h1.80v1.80h-1.80zM508.54 295.76h1.80v1.80h-1.80zM510.70 295.66h1.80v1.80h-1.80zM512.86 295.56h1.80v1.80h-1.80zM515.02 295.48h1.80v1.80h-1.80zM517.18 295.39h1.80v1.80h-1.80zM519.34 295.30h1.80v1.80h-1.80zM521.50 295.20h1.80v1.80h-1.80zM523.66 295.11h1.80v1.80h-1.80zM525.82 295.02h1.80v1.80h-1.80zM527.98 294.94h1.80v1.80h-1.80zM530.14 294.86h1.80v1.80h-1.80zM532.30 294.78h1.80v1.80h-1.80zM534.46 294.71h1.80v1.80h-1.80zM536.62 294.64h1.80v1.80h-1.80zM538.78 294.58h1.80v1.80h-1.80zM540.94 294.53h1.80v1.80h-1.80zM543.10 294.47h1.80v1.80h-1.80zM545.26 294.42h1.80v1.80h-1.80zM547.42 294.37h1.80v1.80h-1.80zM549.58 294.32h1.80v1.80h-1.80zM551.74 294.28h1.80v1.80h-1.80zM553.90 294.23h1.80v1.80h-1.80zM556.06 294.20h1.80v1.80h-1.80zM558.22 294.16h1.80v1.80h-1.80zM560.38 294.13h1.80v1.80h-1.80zM562.54 294.11h1.80v1.80h-1.80zM564.70 294.08h1.80v1.80h-1.80zM566.86 294.06h1.80v1.80h-1.80zM569.02 294.05h1.80v1.80h-1.80zM571.18 294.03h1.80v1.80h-1.80zM573.34 294.02h1.80v1.80h-1.80zM575.50 294.00h1.80v1.80h-1.80zM577.66 293.99h1.80v1.80h-1.80zM579.82 293.98h1.80v1.80h-1.80zM581.98 293.97h1.80v1.80h-1.80zM584.14 293.95h1.80v1.80h-1.80zM586.30 293.94h1.80v1.80h-1.80zM588.46 293.93h1.80v1.80h-1.80zM590.62 293.92h1.80v1.80h-1.80zM592.78 293.90h1.80v1.80h-1.80z" fill="none" stroke="#f37c87" stroke-width="0.5"/>
</g>
<g clip-path="url(#cle)">
<path d="M453.28 309.56V342.97M450.98 309.56h4.60M450.98 342.97h4.60M455.44 306.43V333.92M453.14 306.43h4.60M453.14 333.92h4.60M457.60 303.56V328.28M455.30 303.56h4.60M455.30 328.28h4.60M459.76 300.92V322.20M457.46 300.92h4.60M457.46 322.20h4.60M461.92 298.41V316.30M459.62 298.41h4.60M459.62 316.30h4.60M464.08 295.61V310.87M461.78 295.61h4.60M461.78 310.87h4.60M466.24 293.40V307.35M463.94 293.40h4.60M463.94 307.35h4.60M468.40 291.39V304.33M466.10 291.39h4.60M466.10 304.33h4.60M470.56 289.30V301.38M468.26 289.30h4.60M468.26 301.38h4.60M472.72 287.57V298.94M470.42 287.57h4.60M470.42 298.94h4.60M474.88 286.11V296.91M472.58 286.11h4.60M472.58 296.91h4.60M477.04 284.83V295.20M474.74 284.83h4.60M474.74 295.20h4.60M479.20 283.69V293.76M476.90 283.69h4.60M476.90 293.76h4.60M481.36 282.62V292.51M479.06 282.62h4.60M479.06 292.51h4.60M483.52 281.63V291.35M481.22 281.63h4.60M481.22 291.35h4.60M485.68 280.71V290.27M483.38 280.71h4.60M483.38 290.27h4.60M487.84 279.86V289.28M485.54 279.86h4.60M485.54 289.28h4.60M490.00 279.10V288.38M487.70 279.10h4.60M487.70 288.38h4.60M492.16 278.39V287.54M489.86 278.39h4.60M489.86 287.54h4.60M494.32 277.73V286.77M492.02 277.73h4.60M492.02 286.77h4.60M496.48 277.08V286.01M494.18 277.08h4.60M494.18 286.01h4.60M498.64 276.46V285.29M496.34 276.46h4.60M496.34 285.29h4.60M500.80 275.87V284.62M498.50 275.87h4.60M498.50 284.62h4.60M502.96 275.34V284.00M500.66 275.34h4.60M500.66 284.00h4.60M505.12 274.89V283.48M502.82 274.89h4.60M502.82 283.48h4.60M507.28 274.48V283.00M504.98 274.48h4.60M504.98 283.00h4.60M509.44 274.09V282.55M507.14 274.09h4.60M507.14 282.55h4.60M511.60 273.73V282.13M509.30 273.73h4.60M509.30 282.13h4.60M513.76 273.41V281.76M511.46 273.41h4.60M511.46 281.76h4.60M515.92 273.12V281.42M513.62 273.12h4.60M513.62 281.42h4.60M518.08 272.86V281.12M515.78 272.86h4.60M515.78 281.12h4.60M520.24 272.65V280.87M517.94 272.65h4.60M517.94 280.87h4.60M522.40 272.45V280.64M520.10 272.45h4.60M520.10 280.64h4.60M524.56 272.27V280.43M522.26 272.27h4.60M522.26 280.43h4.60M526.72 272.11V280.23M524.42 272.11h4.60M524.42 280.23h4.60M528.88 271.95V280.05M526.58 271.95h4.60M526.58 280.05h4.60M531.04 271.81V279.88M528.74 271.81h4.60M528.74 279.88h4.60M533.20 271.68V279.72M530.90 271.68h4.60M530.90 279.72h4.60M535.36 271.55V279.56M533.06 271.55h4.60M533.06 279.56h4.60M537.52 271.42V279.41M535.22 271.42h4.60M535.22 279.41h4.60M539.68 271.30V279.27M537.38 271.30h4.60M537.38 279.27h4.60M541.84 271.18V279.12M539.54 271.18h4.60M539.54 279.12h4.60M544.00 271.06V278.98M541.70 271.06h4.60M541.70 278.98h4.60M546.16 270.94V278.85M543.86 270.94h4.60M543.86 278.85h4.60M548.32 270.83V278.72M546.02 270.83h4.60M546.02 278.72h4.60M550.48 270.73V278.60M548.18 270.73h4.60M548.18 278.60h4.60M552.64 270.62V278.47M550.34 270.62h4.60M550.34 278.47h4.60M554.80 270.53V278.36M552.50 270.53h4.60M552.50 278.36h4.60M556.96 270.43V278.25M554.66 270.43h4.60M554.66 278.25h4.60M559.12 270.34V278.14M556.82 270.34h4.60M556.82 278.14h4.60M561.28 270.25V278.04M558.98 270.25h4.60M558.98 278.04h4.60M563.44 270.17V277.94M561.14 270.17h4.60M561.14 277.94h4.60M565.60 270.09V277.84M563.30 270.09h4.60M563.30 277.84h4.60M567.76 270.02V277.75M565.46 270.02h4.60M565.46 277.75h4.60M569.92 269.95V277.67M567.62 269.95h4.60M567.62 277.67h4.60M572.08 269.89V277.59M569.78 269.89h4.60M569.78 277.59h4.60M574.24 269.82V277.51M571.94 269.82h4.60M571.94 277.51h4.60M576.40 269.76V277.43M574.10 269.76h4.60M574.10 277.43h4.60M578.56 269.70V277.35M576.26 269.70h4.60M576.26 277.35h4.60M580.72 269.65V277.28M578.42 269.65h4.60M578.42 277.28h4.60M582.88 269.59V277.20M580.58 269.59h4.60M580.58 277.20h4.60M585.04 269.53V277.13M582.74 269.53h4.60M582.74 277.13h4.60M587.20 269.48V277.05M584.90 269.48h4.60M584.90 277.05h4.60M589.36 269.42V276.97M587.06 269.42h4.60M587.06 276.97h4.60M591.52 269.37V276.89M589.22 269.37h4.60M589.22 276.89h4.60M593.68 269.31V276.81M591.38 269.31h4.60M591.38 276.81h4.60" stroke="#cc0000" stroke-width="0.7" fill="none"/>
<path d="M423.04 349.41V385.50M420.74 349.41h4.60M425.20 349.47V385.50M422.90 349.47h4.60M427.36 346.71V385.50M425.06 346.71h4.60M429.52 344.93V385.50M427.22 344.93h4.60M431.68 344.46V385.50M429.38 344.46h4.60M433.84 340.52V385.50M431.54 340.52h4.60M436.00 340.91V385.50M433.70 340.91h4.60M438.16 338.56V385.50M435.86 338.56h4.60M440.32 332.68V385.50M438.02 332.68h4.60M442.48 329.11V385.50M440.18 329.11h4.60M444.64 324.33V385.50M442.34 324.33h4.60M446.80 319.70V366.00M444.50 319.70h4.60M444.50 366.00h4.60M448.96 316.72V355.16M446.66 316.72h4.60M446.66 355.16h4.60M451.12 313.20V348.72M448.82 313.20h4.60M448.82 348.72h4.60" stroke="#cc0000" stroke-width="0.5" fill="none"/>
<path d="M423.04 362.80l1.60 1.60l-1.60 1.60l-1.60 -1.60zM425.20 362.50l1.60 1.60l-1.60 1.60l-1.60 -1.60zM427.36 359.40l1.60 1.60l-1.60 1.60l-1.60 -1.60zM429.52 357.30l1.60 1.60l-1.60 1.60l-1.60 -1.60zM431.68 356.50l1.60 1.60l-1.60 1.60l-1.60 -1.60zM433.84 352.20l1.60 1.60l-1.60 1.60l-1.60 -1.60zM436.00 352.20l1.60 1.60l-1.60 1.60l-1.60 -1.60zM438.16 349.40l1.60 1.60l-1.60 1.60l-1.60 -1.60zM440.32 343.00l1.60 1.60l-1.60 1.60l-1.60 -1.60zM442.48 338.70l1.60 1.60l-1.60 1.60l-1.60 -1.60zM444.64 333.00l1.60 1.60l-1.60 1.60l-1.60 -1.60zM446.80 327.40l1.60 1.60l-1.60 1.60l-1.60 -1.60zM448.96 323.50l1.60 1.60l-1.60 1.60l-1.60 -1.60zM451.12 319.20l1.60 1.60l-1.60 1.60l-1.60 -1.60zM453.28 314.76l1.60 1.60l-1.60 1.60l-1.60 -1.60zM455.44 310.87l1.60 1.60l-1.60 1.60l-1.60 -1.60zM457.60 307.38l1.60 1.60l-1.60 1.60l-1.60 -1.60zM459.76 304.34l1.60 1.60l-1.60 1.60l-1.60 -1.60zM461.92 301.64l1.60 1.60l-1.60 1.60l-1.60 -1.60zM464.08 298.67l1.60 1.60l-1.60 1.60l-1.60 -1.60zM466.24 296.31l1.60 1.60l-1.60 1.60l-1.60 -1.60zM468.40 294.16l1.60 1.60l-1.60 1.60l-1.60 -1.60zM470.56 291.96l1.60 1.60l-1.60 1.60l-1.60 -1.60zM472.72 290.14l1.60 1.60l-1.60 1.60l-1.60 -1.60zM474.88 288.61l1.60 1.60l-1.60 1.60l-1.60 -1.60zM477.04 287.28l1.60 1.60l-1.60 1.60l-1.60 -1.60zM479.20 286.10l1.60 1.60l-1.60 1.60l-1.60 -1.60zM481.36 285.01l1.60 1.60l-1.60 1.60l-1.60 -1.60zM483.52 283.99l1.60 1.60l-1.60 1.60l-1.60 -1.60zM485.68 283.05l1.60 1.60l-1.60 1.60l-1.60 -1.60zM487.84 282.19l1.60 1.60l-1.60 1.60l-1.60 -1.60zM490.00 281.40l1.60 1.60l-1.60 1.60l-1.60 -1.60zM492.16 280.68l1.60 1.60l-1.60 1.60l-1.60 -1.60zM494.32 280.00l1.60 1.60l-1.60 1.60l-1.60 -1.60zM496.48 279.34l1.60 1.60l-1.60 1.60l-1.60 -1.60zM498.64 278.70l1.60 1.60l-1.60 1.60l-1.60 -1.60zM500.80 278.10l1.60 1.60l-1.60 1.60l-1.60 -1.60zM502.96 277.56l1.60 1.60l-1.60 1.60l-1.60 -1.60zM505.12 277.09l1.60 1.60l-1.60 1.60l-1.60 -1.60zM507.28 276.67l1.60 1.60l-1.60 1.60l-1.60 -1.60zM509.44 276.27l1.60 1.60l-1.60 1.60l-1.60 -1.60zM511.60 275.90l1.60 1.60l-1.60 1.60l-1.60 -1.60zM513.76 275.56l1.60 1.60l-1.60 1.60l-1.60 -1.60zM515.92 275.26l1.60 1.60l-1.60 1.60l-1.60 -1.60zM518.08 275.00l1.60 1.60l-1.60 1.60l-1.60 -1.60zM520.24 274.77l1.60 1.60l-1.60 1.60l-1.60 -1.60zM522.40 274.57l1.60 1.60l-1.60 1.60l-1.60 -1.60zM524.56 274.38l1.60 1.60l-1.60 1.60l-1.60 -1.60zM526.72 274.21l1.60 1.60l-1.60 1.60l-1.60 -1.60zM528.88 274.05l1.60 1.60l-1.60 1.60l-1.60 -1.60zM531.04 273.90l1.60 1.60l-1.60 1.60l-1.60 -1.60zM533.20 273.76l1.60 1.60l-1.60 1.60l-1.60 -1.60zM535.36 273.62l1.60 1.60l-1.60 1.60l-1.60 -1.60zM537.52 273.49l1.60 1.60l-1.60 1.60l-1.60 -1.60zM539.68 273.36l1.60 1.60l-1.60 1.60l-1.60 -1.60zM541.84 273.23l1.60 1.60l-1.60 1.60l-1.60 -1.60zM544.00 273.11l1.60 1.60l-1.60 1.60l-1.60 -1.60zM546.16 272.99l1.60 1.60l-1.60 1.60l-1.60 -1.60zM548.32 272.87l1.60 1.60l-1.60 1.60l-1.60 -1.60zM550.48 272.76l1.60 1.60l-1.60 1.60l-1.60 -1.60zM552.64 272.65l1.60 1.60l-1.60 1.60l-1.60 -1.60zM554.80 272.55l1.60 1.60l-1.60 1.60l-1.60 -1.60zM556.96 272.45l1.60 1.60l-1.60 1.60l-1.60 -1.60zM559.12 272.35l1.60 1.60l-1.60 1.60l-1.60 -1.60zM561.28 272.26l1.60 1.60l-1.60 1.60l-1.60 -1.60zM563.44 272.17l1.60 1.60l-1.60 1.60l-1.60 -1.60zM565.60 272.09l1.60 1.60l-1.60 1.60l-1.60 -1.60zM567.76 272.01l1.60 1.60l-1.60 1.60l-1.60 -1.60zM569.92 271.93l1.60 1.60l-1.60 1.60l-1.60 -1.60zM572.08 271.86l1.60 1.60l-1.60 1.60l-1.60 -1.60zM574.24 271.79l1.60 1.60l-1.60 1.60l-1.60 -1.60zM576.40 271.73l1.60 1.60l-1.60 1.60l-1.60 -1.60zM578.56 271.66l1.60 1.60l-1.60 1.60l-1.60 -1.60zM580.72 271.60l1.60 1.60l-1.60 1.60l-1.60 -1.60zM582.88 271.53l1.60 1.60l-1.60 1.60l-1.60 -1.60zM585.04 271.47l1.60 1.60l-1.60 1.60l-1.60 -1.60zM587.20 271.41l1.60 1.60l-1.60 1.60l-1.60 -1.60zM589.36 271.34l1.60 1.60l-1.60 1.60l-1.60 -1.60zM591.52 271.28l1.60 1.60l-1.60 1.60l-1.60 -1.60zM593.68 271.21l1.60 1.60l-1.60 1.60l-1.60 -1.60z" fill="#cc0000" stroke="#cc0000" stroke-width="0.5"/>
</g>
<rect x="413.5" y="245.5" width="188.0" height="140.0" fill="none" stroke="#4d4d4d" stroke-width="1"/>
<path d="M447.5 385.5v-3.5M447.5 245.5v3.5M490.5 385.5v-3.5M490.5 245.5v3.5M533.5 385.5v-3.5M533.5 245.5v3.5M576.5 385.5v-3.5M576.5 245.5v3.5M413.5 382.50h5M601.5 382.50h-5M413.5 372.42h3M601.5 372.42h-3M413.5 366.52h3M601.5 366.52h-3M413.5 362.33h3M601.5 362.33h-3M413.5 359.08h3M601.5 359.08h-3M413.5 356.43h3M601.5 356.43h-3M413.5 354.19h3M601.5 354.19h-3M413.5 352.25h3M601.5 352.25h-3M413.5 350.53h3M601.5 350.53h-3M413.5 349.00h5M601.5 349.00h-5M413.5 338.92h3M601.5 338.92h-3M413.5 333.02h3M601.5 333.02h-3M413.5 328.83h3M601.5 328.83h-3M413.5 325.58h3M601.5 325.58h-3M413.5 322.93h3M601.5 322.93h-3M413.5 320.69h3M601.5 320.69h-3M413.5 318.75h3M601.5 318.75h-3M413.5 317.03h3M601.5 317.03h-3M413.5 315.50h5M601.5 315.50h-5M413.5 305.42h3M601.5 305.42h-3M413.5 299.52h3M601.5 299.52h-3M413.5 295.33h3M601.5 295.33h-3M413.5 292.08h3M601.5 292.08h-3M413.5 289.43h3M601.5 289.43h-3M413.5 287.19h3M601.5 287.19h-3M413.5 285.25h3M601.5 285.25h-3M413.5 283.53h3M601.5 283.53h-3M413.5 282.00h5M601.5 282.00h-5M413.5 271.92h3M601.5 271.92h-3M413.5 266.02h3M601.5 266.02h-3M413.5 261.83h3M601.5 261.83h-3M413.5 258.58h3M601.5 258.58h-3M413.5 255.93h3M601.5 255.93h-3M413.5 253.69h3M601.5 253.69h-3M413.5 251.75h3M601.5 251.75h-3M413.5 250.03h3M601.5 250.03h-3M413.5 248.50h5M601.5 248.50h-5" stroke="#4d4d4d" stroke-width="1" fill="none"/>
<text x="446.2" y="397.4" class="tl" text-anchor="middle">10</text>
<text x="489.4" y="397.4" class="tl" text-anchor="middle">15</text>
<text x="532.6" y="397.4" class="tl" text-anchor="middle">20</text>
<text x="575.8" y="397.4" class="tl" text-anchor="middle">25</text>
<text x="400.9" y="386.9" class="tl" text-anchor="middle">10<tspan class="sup" dy="-5.5">-3</tspan></text>
<text x="400.9" y="353.4" class="tl" text-anchor="middle">10<tspan class="sup" dy="-5.5">-2</tspan></text>
<text x="400.9" y="319.9" class="tl" text-anchor="middle">10<tspan class="sup" dy="-5.5">-1</tspan></text>
<text x="400.9" y="286.4" class="tl" text-anchor="middle">10<tspan class="sup" dy="-5.5">0</tspan></text>
<text x="400.9" y="252.9" class="tl" text-anchor="middle">10<tspan class="sup" dy="-5.5">1</tspan></text>
<text x="477.5" y="412.1" class="at" textLength="73" lengthAdjust="spacingAndGlyphs">Time (min)</text>
<text transform="translate(382.3,312.5) rotate(-90)" class="at" text-anchor="middle" textLength="71.5" lengthAdjust="spacingAndGlyphs"><tspan font-style="italic">G&#8242;, G&#8243;</tspan> (Pa)</text>
<text x="460.1" y="240.7" class="ti" textLength="98.1" lengthAdjust="spacingAndGlyphs"><tspan class="om">&#969;</tspan> = 10.0 rad/s</text>
<text transform="translate(369.2,223.8) scale(0.95,1)" class="pl">e</text>
<rect x="557.8" y="354.7" width="27.6" height="19.8" fill="#111"/>
<rect x="556.6" y="353.3" width="27.6" height="19.8" fill="#fff" stroke="#222" stroke-width="0.9"/>
<circle cx="565.7" cy="359.2" r="1.8" fill="#cc0000"/>
<rect x="563.9" y="365.4" width="3.6" height="3.6" fill="none" stroke="#f59aa2" stroke-width="0.6"/>
<text x="574.8" y="361.2" class="lg">G&#8242;</text>
<text x="574.8" y="369.2" class="lg">G&#8243;</text>
</svg>
</body></html>
